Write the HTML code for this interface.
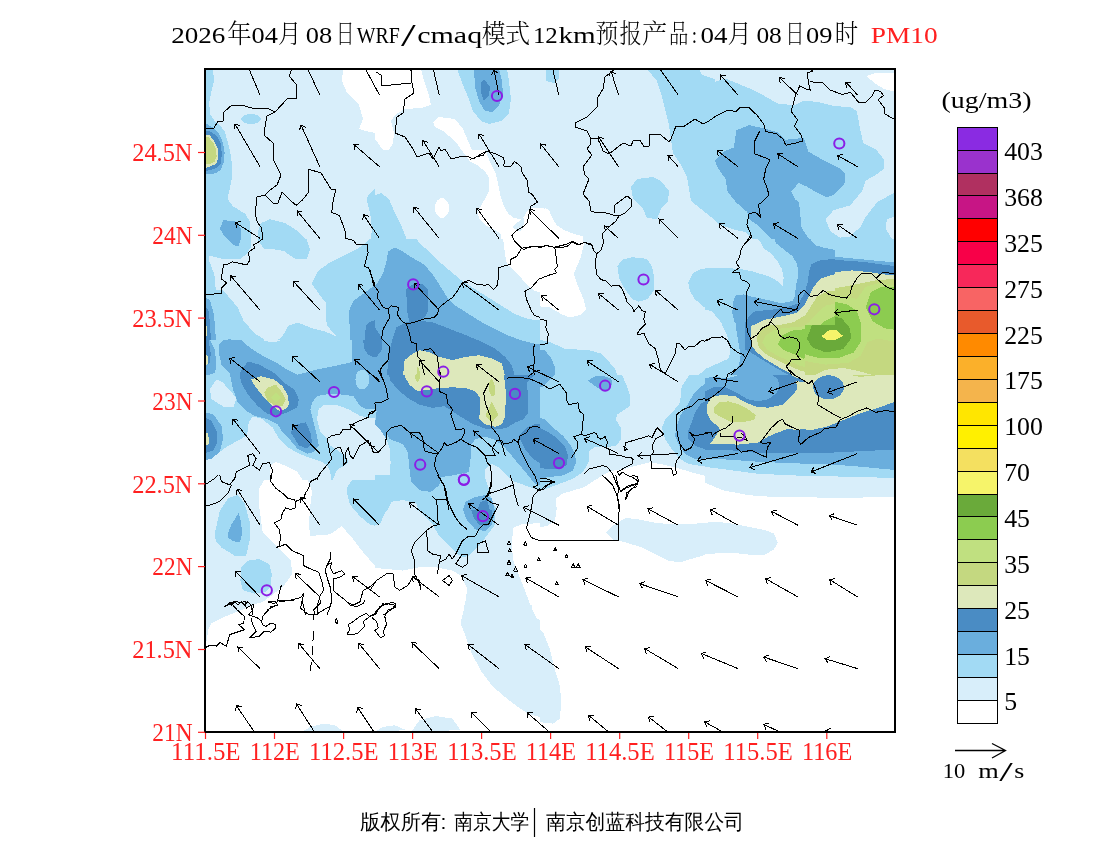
<!DOCTYPE html>
<html><head><meta charset="utf-8"><title>PM10</title>
<style>html,body{margin:0;padding:0;background:#fff;width:1100px;height:850px;overflow:hidden}svg{display:block}</style>
</head><body>
<svg width="1100" height="850" viewBox="0 0 1100 850">
<rect width="1100" height="850" fill="#fff"/>
<text x="171.2" y="43.4" font-size="24" fill="#000" font-family='"Liberation Serif", "Noto Serif CJK SC", serif' textLength="54.2" lengthAdjust="spacingAndGlyphs">2026</text>
<text x="227.3" y="42.6" font-size="25.7" fill="#000" font-family='"Liberation Serif", "Noto Serif CJK SC", serif' textLength="24.4" lengthAdjust="spacingAndGlyphs" font-weight="300">年</text>
<text x="251.5" y="43.4" font-size="24" fill="#000" font-family='"Liberation Serif", "Noto Serif CJK SC", serif' textLength="26.3" lengthAdjust="spacingAndGlyphs">04</text>
<text x="278.0" y="42.6" font-size="25.7" fill="#000" font-family='"Liberation Serif", "Noto Serif CJK SC", serif' textLength="23.4" lengthAdjust="spacingAndGlyphs" font-weight="300">月</text>
<text x="305.8" y="43.4" font-size="24" fill="#000" font-family='"Liberation Serif", "Noto Serif CJK SC", serif' textLength="26.4" lengthAdjust="spacingAndGlyphs">08</text>
<text x="336.0" y="42.6" font-size="25.7" fill="#000" font-family='"Liberation Serif", "Noto Serif CJK SC", serif' textLength="18.4" lengthAdjust="spacingAndGlyphs" font-weight="300">日</text>
<text x="356.7" y="43.4" font-size="24" fill="#000" font-family='"Liberation Serif", "Noto Serif CJK SC", serif' textLength="43.1" lengthAdjust="spacingAndGlyphs">WRF</text>
<text x="401.09999999999997" y="45.5" font-size="31" fill="#000" font-family='"Liberation Serif", "Noto Serif CJK SC", serif' textLength="14.7" lengthAdjust="spacingAndGlyphs">/</text>
<text x="417.2" y="43.4" font-size="24" fill="#000" font-family='"Liberation Serif", "Noto Serif CJK SC", serif' textLength="65.0" lengthAdjust="spacingAndGlyphs">cmaq</text>
<text x="481.8" y="42.6" font-size="25.7" fill="#000" font-family='"Liberation Serif", "Noto Serif CJK SC", serif' textLength="23.8" lengthAdjust="spacingAndGlyphs" font-weight="300">模</text>
<text x="505.1" y="42.6" font-size="25.7" fill="#000" font-family='"Liberation Serif", "Noto Serif CJK SC", serif' textLength="25.2" lengthAdjust="spacingAndGlyphs" font-weight="300">式</text>
<text x="532.9000000000001" y="43.4" font-size="24" fill="#000" font-family='"Liberation Serif", "Noto Serif CJK SC", serif' textLength="24.9" lengthAdjust="spacingAndGlyphs">12</text>
<text x="558.4000000000001" y="43.4" font-size="24" fill="#000" font-family='"Liberation Serif", "Noto Serif CJK SC", serif' textLength="37.2" lengthAdjust="spacingAndGlyphs">km</text>
<text x="595.5999999999999" y="42.6" font-size="25.7" fill="#000" font-family='"Liberation Serif", "Noto Serif CJK SC", serif' textLength="23.0" lengthAdjust="spacingAndGlyphs" font-weight="300">预</text>
<text x="619.5999999999999" y="42.6" font-size="25.7" fill="#000" font-family='"Liberation Serif", "Noto Serif CJK SC", serif' textLength="22.3" lengthAdjust="spacingAndGlyphs" font-weight="300">报</text>
<text x="642.0999999999999" y="42.6" font-size="25.7" fill="#000" font-family='"Liberation Serif", "Noto Serif CJK SC", serif' textLength="25.2" lengthAdjust="spacingAndGlyphs" font-weight="300">产</text>
<text x="669.0" y="42.6" font-size="25.7" fill="#000" font-family='"Liberation Serif", "Noto Serif CJK SC", serif' textLength="19.4" lengthAdjust="spacingAndGlyphs" font-weight="300">品</text>
<text x="691.7" y="43.4" font-size="24" fill="#000" font-family='"Liberation Serif", "Noto Serif CJK SC", serif' textLength="5.3" lengthAdjust="spacingAndGlyphs">:</text>
<text x="700.5" y="43.4" font-size="24" fill="#000" font-family='"Liberation Serif", "Noto Serif CJK SC", serif' textLength="27.0" lengthAdjust="spacingAndGlyphs">04</text>
<text x="727.6" y="42.6" font-size="25.7" fill="#000" font-family='"Liberation Serif", "Noto Serif CJK SC", serif' textLength="24.3" lengthAdjust="spacingAndGlyphs" font-weight="300">月</text>
<text x="756.4000000000001" y="43.4" font-size="24" fill="#000" font-family='"Liberation Serif", "Noto Serif CJK SC", serif' textLength="25.4" lengthAdjust="spacingAndGlyphs">08</text>
<text x="785.3000000000001" y="42.6" font-size="25.7" fill="#000" font-family='"Liberation Serif", "Noto Serif CJK SC", serif' textLength="19.2" lengthAdjust="spacingAndGlyphs" font-weight="300">日</text>
<text x="806.0" y="43.4" font-size="24" fill="#000" font-family='"Liberation Serif", "Noto Serif CJK SC", serif' textLength="26.4" lengthAdjust="spacingAndGlyphs">09</text>
<text x="834.6999999999999" y="42.6" font-size="25.7" fill="#000" font-family='"Liberation Serif", "Noto Serif CJK SC", serif' textLength="23.5" lengthAdjust="spacingAndGlyphs" font-weight="300">时</text>
<text x="870.8" y="43.4" font-size="24" fill="#ff2020" font-family='"Liberation Serif", "Noto Serif CJK SC", serif' textLength="66.8" lengthAdjust="spacingAndGlyphs">PM10</text>
<defs>
<clipPath id="t0"><rect x="205" y="69" width="170" height="170" shape-rendering="crispEdges"/></clipPath>
<clipPath id="t1"><rect x="375" y="69" width="170" height="170" shape-rendering="crispEdges"/></clipPath>
<clipPath id="t2"><rect x="545" y="69" width="170" height="170" shape-rendering="crispEdges"/></clipPath>
<clipPath id="t3"><rect x="715" y="69" width="180" height="170" shape-rendering="crispEdges"/></clipPath>
<clipPath id="t4"><rect x="205" y="239" width="170" height="101" shape-rendering="crispEdges"/></clipPath>
<clipPath id="t5"><rect x="205" y="340" width="170" height="140" shape-rendering="crispEdges"/></clipPath>
<clipPath id="t6"><rect x="375" y="239" width="165" height="136" shape-rendering="crispEdges"/></clipPath>
<clipPath id="t7"><rect x="540" y="239" width="165" height="136" shape-rendering="crispEdges"/></clipPath>
<clipPath id="t8"><rect x="705" y="239" width="191" height="136" shape-rendering="crispEdges"/></clipPath>
<clipPath id="t9"><rect x="705" y="239" width="130" height="86" shape-rendering="crispEdges"/></clipPath>
<clipPath id="t10"><rect x="705" y="325" width="100" height="50" shape-rendering="crispEdges"/></clipPath>
<clipPath id="t11"><rect x="375" y="375" width="165" height="135" shape-rendering="crispEdges"/></clipPath>
<clipPath id="t12"><rect x="540" y="375" width="165" height="135" shape-rendering="crispEdges"/></clipPath>
<clipPath id="t13"><rect x="705" y="375" width="191" height="135" shape-rendering="crispEdges"/></clipPath>
<clipPath id="t14"><rect x="705" y="375" width="100" height="75" shape-rendering="crispEdges"/></clipPath>
<clipPath id="t15"><rect x="205" y="480" width="170" height="125" shape-rendering="crispEdges"/></clipPath>
<clipPath id="t16"><rect x="375" y="510" width="165" height="95" shape-rendering="crispEdges"/></clipPath>
<clipPath id="t17"><rect x="540" y="510" width="165" height="95" shape-rendering="crispEdges"/></clipPath>
<clipPath id="t18"><rect x="705" y="510" width="191" height="95" shape-rendering="crispEdges"/></clipPath>
<clipPath id="t19"><rect x="205" y="605" width="170" height="128" shape-rendering="crispEdges"/></clipPath>
<clipPath id="t20"><rect x="375" y="605" width="165" height="128" shape-rendering="crispEdges"/></clipPath>
<clipPath id="t21"><rect x="540" y="605" width="165" height="128" shape-rendering="crispEdges"/></clipPath>
<clipPath id="t22"><rect x="705" y="605" width="191" height="128" shape-rendering="crispEdges"/></clipPath>
<clipPath id="mapc"><rect x="205" y="69" width="690" height="663"/></clipPath>
</defs>
<g clip-path="url(#mapc)" shape-rendering="crispEdges">
<rect x="205" y="69" width="690" height="663" fill="#d8eefa"/>
<g clip-path="url(#t0)">
<rect x="204" y="68" width="172" height="172" fill="#d8eefa"/>
<polygon points="205.0,69.0 213.0,69.0 214.0,81.0 212.0,89.0 209.0,103.0 210.5,115.0 214.3,120.6 219.9,125.4 224.6,131.0 227.5,141.4 230.3,152.6 232.2,165.8 232.2,176.2 230.3,186.5 228.4,195.0 228.2,200.0 232.8,206.2 245.2,213.9 249.8,221.6 251.4,240.0 205.0,240.0" fill="#a2daf4"/>
<polygon points="261.0,119.0 260.2,120.9 258.1,122.5 254.8,123.6 251.0,124.0 247.2,123.6 243.9,122.5 241.8,120.9 241.0,119.0 241.8,117.1 243.9,115.5 247.2,114.4 251.0,114.0 254.8,114.4 258.1,115.5 260.2,117.1" fill="#a2daf4"/>
<polygon points="258.3,230.9 260.6,223.2 269.9,219.3 285.4,223.2 297.7,230.9 307.0,240.2 258.3,240.2" fill="#a2daf4"/>
<polygon points="375.0,188.0 368.0,195.0 366.5,200.0 368.8,207.7 371.1,218.5 371.9,230.9 370.4,240.0 375.0,240.0" fill="#a2daf4"/>
<polygon points="343.0,69.0 342.0,81.0 347.0,93.0 359.0,105.0 363.0,119.0 359.0,129.0 365.0,131.0 375.0,133.0 375.0,69.0" fill="#ffffff"/>
<polygon points="205.8,123.5 212.4,127.2 219.0,133.8 222.8,142.3 224.6,152.6 223.7,162.1 220.9,169.6 215.2,173.4 205.0,174.3 205.0,123.5" fill="#6aaedd"/>
<polygon points="219.7,228.6 223.5,220.1 235.9,221.6 241.3,229.4 240.5,240.2 238.2,246.4 232.8,244.8 225.1,237.1" fill="#6aaedd"/>
<polygon points="205.0,130.1 211.5,132.0 217.1,136.6 220.9,143.2 221.8,154.5 220.9,163.9 215.2,168.6 207.7,170.5 205.0,170.5" fill="#4a8cc4"/>
<polygon points="205.0,134.8 209.6,135.2 214.3,141.4 217.6,147.9 218.5,157.4 216.2,163.9 211.5,165.8 206.8,167.7 205.0,167.7" fill="#dde8bb"/>
<polygon points="205.0,136.6 208.6,137.1 213.4,143.2 216.2,149.8 216.6,156.4 214.3,162.1 209.6,163.9 205.0,163.9" fill="#c4d880"/>
</g>
<g clip-path="url(#t1)">
<rect x="374" y="68" width="172" height="172" fill="#d8eefa"/>
<polygon points="457.0,69.0 463.0,85.0 469.0,99.0 473.0,111.0 481.0,121.0 489.0,124.0 501.0,121.0 509.0,113.0 511.0,99.0 509.0,81.0 507.0,69.0" fill="#a2daf4"/>
<polygon points="375.0,195.0 381.0,193.0 389.0,199.0 395.0,213.0 401.0,225.0 407.0,240.0 375.0,240.0" fill="#a2daf4"/>
<polygon points="375.0,69.0 421.0,69.0 424.0,81.0 429.0,95.0 431.0,105.0 421.0,108.0 405.0,109.0 395.0,115.0 391.0,121.0 394.0,133.0 393.0,143.0 389.0,150.0 383.0,150.0 375.0,139.0" fill="#ffffff"/>
<polygon points="433.0,122.0 439.0,117.0 455.0,119.0 463.0,129.0 469.0,143.0 472.0,150.0 485.3,150.0 490.4,162.7 495.5,172.9 498.0,183.1 500.5,195.8 504.4,207.3 508.2,213.6 513.3,217.5 520.9,219.4 514.5,225.1 512.6,227.6 517.1,230.2 520.9,231.5 523.5,225.1 523.5,217.5 527.3,211.1 531.1,208.5 541.3,207.9 548.9,209.8 551.5,216.2 556.5,225.1 564.2,230.2 574.4,234.0 583.3,236.5 584.5,250.0 501.8,250.0 500.5,234.0 495.5,230.2 485.3,225.1 478.9,218.7 477.6,211.1 480.2,207.3 485.3,198.4 489.1,190.7 489.1,178.0 485.3,171.6 477.6,165.3 470.0,161.5 463.0,152.0 455.0,141.0 443.0,131.0 435.0,127.0" fill="#ffffff"/>
<polygon points="449.0,208.0 448.5,211.8 446.9,215.1 444.7,217.2 442.0,218.0 439.3,217.2 437.1,215.1 435.5,211.8 435.0,208.0 435.5,204.2 437.1,200.9 439.3,198.8 442.0,198.0 444.7,198.8 446.9,200.9 448.5,204.2" fill="#ffffff"/>
<polygon points="474.0,69.0 475.0,87.0 479.0,101.0 485.0,111.0 493.0,112.0 499.0,105.0 503.0,95.0 502.0,81.0 499.0,69.0" fill="#6aaedd"/>
<polygon points="481.0,83.0 484.0,79.0 490.0,87.0 489.0,95.0 484.0,101.0 481.0,93.0" fill="#4a8cc4"/>
</g>
<g clip-path="url(#t2)">
<rect x="544" y="68" width="172" height="172" fill="#d8eefa"/>
<polygon points="546.0,69.0 559.0,69.0 559.0,78.0 554.0,83.0 546.0,81.0" fill="#a2daf4"/>
<polygon points="647.0,69.0 699.0,69.0 702.0,75.0 715.0,79.0 715.0,221.0 711.0,217.0 701.0,209.0 691.0,201.0 689.0,189.0 687.0,177.0 681.0,165.0 673.0,153.0 671.0,139.0 669.0,125.0 665.0,109.0 661.0,93.0 657.0,81.0" fill="#a2daf4"/>
<polygon points="631.0,187.0 637.0,179.0 653.0,177.0 661.0,181.0 669.0,191.0 668.0,201.0 661.0,209.0 657.0,219.0 647.0,218.0 643.0,209.0 633.0,199.0" fill="#a2daf4"/>
<polygon points="545.0,208.0 548.9,209.8 551.5,216.2 556.5,225.1 564.2,230.2 574.4,234.0 583.3,236.5 584.5,250.0 545.0,250.0" fill="#ffffff"/>
</g>
<g clip-path="url(#t3)">
<rect x="714" y="68" width="182" height="172" fill="#d8eefa"/>
<polygon points="866.0,76.0 876.0,73.0 896.0,73.0 896.0,92.0 884.0,89.0 876.0,84.0" fill="#ffffff"/>
<polygon points="715.0,81.7 725.6,78.5 738.3,83.8 751.0,89.1 763.7,95.5 778.5,104.0 795.5,105.0 803.9,100.8 816.7,101.8 833.6,106.0 850.5,107.1 856.9,111.4 860.0,128.3 863.2,143.1 876.0,149.5 884.4,160.0 884.4,168.5 876.0,174.9 865.6,180.6 862.0,191.2 850.3,205.3 833.8,210.0 825.6,219.4 830.3,231.2 839.7,237.6 849.1,237.1 860.9,226.5 865.6,217.0 877.4,201.8 896.0,192.0 896.0,240.0 753.0,240.0 745.0,232.0 732.0,229.0 719.0,224.0 715.0,221.0" fill="#a2daf4"/>
<polygon points="886.8,219.4 896.0,215.9 896.0,245.3 885.6,228.8" fill="#d8eefa"/>
<polygon points="715.0,160.0 723.5,151.6 734.0,147.4 736.2,130.4 748.9,125.1 763.7,128.3 778.5,132.5 784.9,139.9 803.9,137.8 808.2,151.6 823.0,160.0 840.0,168.5 845.6,174.7 844.4,184.1 833.8,194.7 826.8,197.6 818.5,193.5 806.8,186.5 798.5,182.9 791.2,191.8 795.0,199.4 798.5,201.8 800.3,211.2 800.9,226.5 806.8,235.9 812.6,244.1 818.5,247.6 780.0,249.0 775.9,243.3 765.5,232.9 757.7,225.2 750.0,220.0 747.4,212.2 736.2,202.4 727.7,191.8 725.6,179.1 717.0,166.4" fill="#6aaedd"/>
</g>
<g clip-path="url(#t4)">
<rect x="204" y="238" width="172" height="103" fill="#a2daf4"/>
<polygon points="251.4,236.0 258.3,236.0 258.3,240.2 263.7,248.7 274.6,249.5 283.8,251.0 296.2,259.5 307.0,258.7 310.1,249.5 307.0,240.2 305.0,236.0 370.0,236.0 370.4,238.6 365.7,243.3 356.5,249.5 344.1,255.6 328.6,263.4 317.8,271.1 311.6,283.5 316.3,290.0 319.4,294.6 325.6,302.4 325.6,316.3 327.1,325.5 336.4,336.4 325.6,331.7 313.2,328.6 297.7,322.5 288.5,325.5 282.3,336.4 274.6,342.6 266.8,341.0 254.5,333.3 243.6,320.9 237.5,307.0 228.2,296.2 222.0,290.0 215.8,290.0 214.3,274.2 208.9,260.3 209.6,255.6 225.1,259.5 240.5,258.7 246.7,254.1 251.4,246.4" fill="#d8eefa"/>
<polygon points="219.7,228.6 223.5,220.1 235.9,221.6 241.3,229.4 240.5,240.2 238.2,246.4 232.8,244.8 225.1,237.1" fill="#6aaedd"/>
<polygon points="205.0,297.0 210.0,300.0 214.0,315.0 216.0,340.0 215.0,365.0 210.0,377.0 205.0,380.0" fill="#6aaedd"/>
<polygon points="375.0,285.0 364.2,293.1 353.4,300.8 348.7,311.6 350.3,336.4 350.3,345.0 375.0,345.0" fill="#6aaedd"/>
<polygon points="218.9,344.1 229.7,338.7 243.6,345.6 259.1,354.9 251.4,354.9 218.9,354.9" fill="#6aaedd"/>
<polygon points="205.0,305.0 209.0,312.0 211.0,340.0 210.0,365.0 205.0,370.0" fill="#4a8cc4"/>
<polygon points="365.7,325.5 370.0,322.0 375.0,320.0 375.0,360.0 368.0,356.0 365.0,345.0" fill="#4a8cc4"/>
<polygon points="207.5,331.0 207.3,333.3 206.8,335.2 206.0,336.5 205.0,337.0 204.0,336.5 203.2,335.2 202.7,333.3 202.5,331.0 202.7,328.7 203.2,326.8 204.0,325.5 205.0,325.0 206.0,325.5 206.8,326.8 207.3,328.7" fill="#dde8bb"/>
</g>
<g clip-path="url(#t5)">
<rect x="204" y="339" width="172" height="142" fill="#a2daf4"/>
<polygon points="259.4,339.2 284.1,339.2 274.2,342.5 266.8,341.3" fill="#d8eefa"/>
<polygon points="209.9,389.4 216.5,379.5 223.1,382.8 236.3,397.7 233.8,406.7 224.8,407.5 211.6,399.3" fill="#d8eefa"/>
<polygon points="205.0,460.3 214.9,455.3 226.4,447.1 237.9,440.5 247.0,435.6 248.7,422.4 252.8,416.6 261.0,418.3 272.5,427.3 279.1,438.8 287.4,447.1 298.9,453.7 312.1,458.6 320.3,461.1 326.9,465.2 330.2,471.8 331.9,481.7 205.0,481.7" fill="#d8eefa"/>
<polygon points="318.7,409.2 323.6,405.1 336.8,405.1 348.3,409.2 359.9,415.8 369.7,418.3 376.3,417.4 376.3,481.7 331.9,481.7 336.8,470.1 345.0,465.2 348.3,461.9 345.0,455.3 340.1,452.0 335.1,448.7 330.2,445.4 326.9,438.8 320.3,432.3 317.0,419.1" fill="#d8eefa"/>
<polygon points="270.9,465.2 275.8,461.9 284.1,465.2 297.3,471.8 303.8,481.7 269.3,481.7" fill="#ffffff"/>
<polygon points="219.0,344.9 224.8,339.2 240.4,339.2 249.5,347.4 261.0,354.8 274.2,361.4 287.4,369.7 297.3,374.6 307.1,372.1 320.3,368.8 336.8,365.5 351.6,362.2 351.6,339.2 376.3,339.2 376.3,409.2 366.4,409.2 359.9,405.9 353.3,396.0 340.1,394.4 326.9,394.4 317.0,396.0 312.1,402.6 310.4,409.2 313.7,422.4 317.0,435.6 318.7,445.4 313.7,452.0 307.1,453.7 297.3,448.7 290.7,440.5 282.4,432.3 277.5,424.0 267.6,419.1 254.4,415.8 246.2,410.8 237.9,402.6 233.0,389.4 229.7,372.9 221.5,364.7 219.0,353.2" fill="#6aaedd"/>
<polygon points="369.3,379.5 368.7,383.3 367.2,386.5 365.0,388.7 362.3,389.4 359.7,388.7 357.4,386.5 355.9,383.3 355.4,379.5 355.9,375.8 357.4,372.5 359.7,370.4 362.3,369.7 365.0,370.4 367.2,372.5 368.7,375.8" fill="#a2daf4"/>
<polygon points="204.2,339.2 209.9,339.2 214.9,349.9 216.5,366.4 214.9,372.9 204.2,376.2" fill="#6aaedd"/>
<polygon points="204.2,412.5 213.2,414.1 221.5,425.7 223.1,438.8 219.8,452.0 211.6,458.6 204.2,460.3" fill="#6aaedd"/>
<polygon points="239.6,372.9 247.8,361.4 259.4,364.7 274.2,372.9 284.1,382.8 294.0,389.4 298.9,399.3 297.3,407.5 287.4,412.5 277.5,415.8 267.6,414.1 257.7,405.9 247.8,394.4 241.2,382.8" fill="#4a8cc4"/>
<polygon points="290.7,432.3 297.3,424.0 305.5,422.4 310.4,432.3 312.1,442.1 307.1,448.7 298.9,445.4" fill="#4a8cc4"/>
<polygon points="204.2,417.4 211.6,420.7 216.5,430.6 217.4,442.1 213.2,450.4 204.2,453.7" fill="#4a8cc4"/>
<polygon points="204.2,339.2 208.3,339.2 210.8,353.2 209.9,363.1 204.2,366.4" fill="#4a8cc4"/>
<polygon points="363.2,339.2 376.3,339.2 376.3,358.1 368.1,354.8 364.0,348.2" fill="#4a8cc4"/>
<polygon points="251.1,379.5 261.0,376.2 274.2,379.5 282.4,386.1 287.4,394.4 289.0,404.3 285.7,409.2 279.1,410.8 272.5,405.9 264.3,397.7 256.1,387.8" fill="#dde8bb"/>
<polygon points="204.2,432.3 207.5,433.1 209.1,438.8 208.3,445.4 204.2,445.4" fill="#dde8bb"/>
<polygon points="204.2,353.2 207.5,356.5 208.3,363.1 204.2,366.4" fill="#dde8bb"/>
<polygon points="264.3,392.7 267.6,387.8 275.8,384.5 282.4,392.7 285.7,399.3 282.4,405.9 275.8,405.9 267.6,401.0" fill="#c4d880"/>
<polygon points="270.9,397.7 275.8,392.7 280.8,397.7 275.8,402.6" fill="#c0e080"/>
</g>
<g clip-path="url(#t6)">
<rect x="374" y="238" width="167" height="138" fill="#a2daf4"/>
<polygon points="411.2,230.1 419.4,243.2 431.0,253.1 440.8,263.0 452.4,272.9 462.3,281.1 475.4,289.4 488.6,297.6 501.8,305.8 515.0,314.1 528.2,319.0 541.3,320.7 541.3,230.1" fill="#d8eefa"/>
<polygon points="501.8,230.1 503.4,241.6 505.1,254.8 506.7,263.0 511.7,267.9 518.3,274.5 526.5,284.4 534.7,291.0 541.3,292.7 541.3,230.1" fill="#ffffff"/>
<polygon points="388.1,251.5 394.7,247.4 402.9,251.5 412.8,258.1 424.4,264.7 432.6,274.5 439.2,284.4 447.4,297.6 455.7,305.8 468.8,314.1 482.0,322.3 495.2,328.9 508.4,335.5 521.6,340.4 534.7,343.7 541.3,344.6 541.3,376.7 369.2,376.7 369.2,291.0 376.6,284.4 383.2,272.9 386.5,261.4" fill="#6aaedd"/>
<polygon points="406.2,289.4 412.8,284.4 422.7,284.4 427.7,289.4 428.5,310.8 424.4,317.4 416.1,322.3 409.5,322.3 407.1,310.8" fill="#4a8cc4"/>
<polygon points="396.4,327.3 406.2,322.3 419.4,320.7 432.6,322.3 445.8,327.3 462.3,333.8 478.7,340.4 495.2,348.7 505.1,356.9 511.7,365.1 515.0,376.7 386.5,376.7 389.8,350.3 393.1,337.1" fill="#4a8cc4"/>
<polygon points="369.2,324.0 374.9,327.3 381.5,337.1 381.5,350.3 376.6,356.9 369.2,356.9" fill="#4a8cc4"/>
<polygon points="404.6,360.2 412.8,353.6 419.4,350.3 429.3,352.0 439.2,356.9 452.4,360.2 465.6,356.9 478.7,355.3 491.9,358.6 501.8,363.5 505.1,376.7 402.9,376.7" fill="#dde8bb"/>
<polygon points="416.1,376.7 417.8,365.1 421.1,376.7" fill="#c4d880"/>
</g>
<g clip-path="url(#t7)">
<rect x="539" y="238" width="167" height="138" fill="#d8eefa"/>
<polygon points="535.1,230.1 582.8,230.1 583.7,244.9 580.4,258.1 573.8,273.7 577.9,286.1 583.7,299.3 586.1,309.1 580.4,314.9 569.7,317.4 561.4,314.1 549.9,307.5 535.1,305.8" fill="#ffffff"/>
<polygon points="617.4,266.3 622.4,259.7 632.3,257.2 647.1,258.9 652.0,266.3 654.5,279.5 653.7,291.0 647.1,299.3 638.8,301.7 632.3,299.3 624.0,287.7 619.1,277.8" fill="#a2daf4"/>
<polygon points="688.3,282.8 693.2,272.9 701.4,268.8 714.6,267.9 714.6,309.1 704.7,307.5 694.9,299.3 689.9,291.0" fill="#a2daf4"/>
<polygon points="535.1,338.8 549.9,342.1 564.7,348.7 589.4,350.3 601.0,353.6 609.2,361.9 615.8,370.1 617.4,376.7 535.1,376.7" fill="#a2daf4"/>
<polygon points="696.5,376.7 704.7,370.1 714.6,366.8 714.6,376.7" fill="#a2daf4"/>
<polygon points="535.1,350.3 544.9,350.3 551.5,358.6 554.8,366.8 555.7,376.7 535.1,376.7" fill="#6aaedd"/>
</g>
<g clip-path="url(#t8)">
<rect x="704" y="238" width="193" height="138" fill="#a2daf4"/>
<polygon points="704.1,229.8 735.2,229.8 737.0,238.5 744.7,241.9 758.5,245.4 762.0,252.3 772.4,255.7 779.3,264.4 782.7,274.7 783.6,285.1 779.3,286.8 772.4,279.9 760.3,273.9 748.2,271.3 734.4,269.5 704.1,268.7" fill="#d8eefa"/>
<polygon points="704.1,309.3 713.6,311.0 722.3,317.9 727.5,331.7 730.9,342.1 734.4,352.5 737.8,362.8 739.5,376.6 704.1,376.6" fill="#d8eefa"/>
<polygon points="762.0,229.8 777.6,229.8 782.7,240.2 794.8,247.1 808.6,252.3 825.9,255.7 843.2,257.5 860.5,259.2 877.7,260.9 896.7,262.6 896.7,376.6 732.6,376.6 732.6,355.9 730.9,338.6 732.6,321.4 733.5,304.1 735.2,297.2 743.0,295.5 756.8,295.5 770.6,295.5 782.7,293.7 791.4,290.3 796.6,283.4 794.8,269.5 784.5,257.5 774.1,248.8 767.2,241.9" fill="#6aaedd"/>
<polygon points="798.3,292.0 801.7,278.2 808.6,266.1 817.3,260.9 834.6,260.0 851.8,260.9 869.1,262.6 886.4,265.2 896.7,266.1 896.7,376.6 744.7,376.6 746.5,355.9 745.6,338.6 746.5,321.4 749.9,316.2 762.0,312.7 779.3,311.0 791.4,307.6 796.6,300.6" fill="#4a8cc4"/>
<polygon points="806.9,297.2 812.1,285.1 819.0,276.5 834.6,272.1 851.8,270.4 869.1,272.1 886.4,274.7 896.7,275.6 896.7,376.6 753.4,376.6 751.6,355.9 750.8,342.1 750.8,328.3 753.4,323.1 762.0,319.6 777.6,316.2 796.6,312.7 803.5,307.6" fill="#dde8bb"/>
<polygon points="805.2,309.3 810.4,297.2 822.5,290.3 843.2,286.8 860.5,283.4 877.7,279.9 896.7,279.0 896.7,376.6 877.7,376.6 860.5,371.5 843.2,368.0 825.9,369.7 812.1,376.6 787.9,376.6 770.6,366.3 762.0,355.9 758.5,342.1 760.3,331.7 770.6,324.8 784.5,321.4 798.3,316.2" fill="#c4d880"/>
<polygon points="777.6,331.7 782.7,316.2 794.8,307.6 812.1,298.9 829.4,295.5 843.2,295.5 857.0,298.9 865.6,286.8 877.7,283.4 896.7,285.1 896.7,342.1 877.7,338.6 867.4,342.1 860.5,355.9 848.4,362.8 825.9,364.6 805.2,361.1 787.9,352.5 779.3,342.1" fill="#c0e080"/>
<polygon points="782.7,338.6 787.9,324.8 801.7,316.2 817.3,304.1 832.8,301.5 846.6,304.1 857.0,311.0 861.3,324.8 860.5,342.1 853.6,352.5 839.7,357.6 817.3,357.6 798.3,352.5 786.2,345.6" fill="#8ccc50"/>
<polygon points="865.6,307.6 870.8,292.0 881.2,286.8 896.7,286.8 896.7,330.0 884.7,328.3 872.6,321.4" fill="#8ccc50"/>
<polygon points="806.9,338.6 812.1,324.8 825.9,316.2 841.5,317.9 850.1,328.3 851.0,338.6 843.2,349.0 825.9,352.5 812.1,347.3" fill="#6aaa3a"/>
<polygon points="821.6,336.1 829.4,330.0 836.3,330.0 843.2,336.1 836.3,339.5 825.9,339.5" fill="#f6f46a"/>
</g>
<g clip-path="url(#t9)">
<rect x="704" y="238" width="132" height="88" fill="#a2daf4"/>
<polygon points="704.4,229.4 738.1,229.4 740.5,232.4 749.9,234.7 754.6,237.1 760.6,241.8 764.1,248.9 771.2,253.6 777.1,260.7 781.8,269.0 783.6,277.3 783.0,286.7 778.3,282.0 771.2,277.3 764.1,274.9 752.3,271.4 740.5,269.0 722.7,267.8 704.4,268.4" fill="#d8eefa"/>
<polygon points="704.4,309.2 712.1,311.6 719.2,319.8 726.3,330.0 704.4,330.0" fill="#d8eefa"/>
<polygon points="766.5,229.4 773.6,237.1 775.9,243.0 783.0,248.9 792.5,256.0 797.2,264.3 798.4,274.9 796.0,285.6 794.8,296.2 792.5,300.9 780.7,303.3 771.2,300.9 761.7,298.6 752.3,296.8 744.0,294.4 735.7,295.6 733.4,300.9 732.2,312.7 734.6,322.2 740.5,330.0 836.2,330.0 836.2,250.1 823.2,247.7 816.1,245.4 811.4,240.6 807.8,234.7 805.5,229.4" fill="#6aaedd"/>
<polygon points="809.0,271.4 811.4,264.3 818.5,260.7 836.2,258.4 836.2,330.0 744.0,330.0 745.2,322.2 749.9,315.1 754.6,311.6 764.1,310.4 775.9,309.2 787.7,306.8 798.4,303.3 804.3,293.8 807.8,282.0" fill="#4a8cc4"/>
<polygon points="752.3,330.0 754.6,324.6 764.1,319.8 775.9,317.5 787.7,315.1 797.2,312.7 804.3,305.7 809.0,296.2 813.7,286.7 820.8,278.5 836.2,273.7 836.2,330.0" fill="#dde8bb"/>
<polygon points="775.9,330.0 781.8,324.6 793.7,322.2 805.5,315.1 811.4,305.7 817.3,296.2 826.7,291.5 836.2,290.3 836.2,330.0" fill="#c4d880"/>
<polygon points="799.6,330.0 809.0,322.2 817.3,312.7 825.6,305.7 836.2,303.3 836.2,330.0" fill="#c0e080"/>
<polygon points="814.9,330.0 823.2,322.2 836.2,315.1 836.2,330.0" fill="#8ccc50"/>
</g>
<g clip-path="url(#t10)">
<rect x="704" y="324" width="102" height="52" fill="#6aaedd"/>
<polygon points="699.4,299.4 730.6,299.4 731.8,307.1 734.1,317.6 736.5,330.6 738.8,344.7 740.6,355.3 738.8,365.9 732.9,372.9 723.5,376.5 711.8,378.8 704.7,382.4 699.4,384.7" fill="#a2daf4"/>
<polygon points="699.4,304.7 707.1,307.1 715.3,314.1 721.2,323.5 727.1,335.3 729.4,344.7 730.0,352.9 728.2,358.8 717.6,363.5 707.1,368.2 699.4,370.6" fill="#d8eefa"/>
<polygon points="744.7,316.5 750.6,312.9 762.4,311.2 776.5,310.0 789.4,308.8 796.5,306.5 800.0,299.4 810.6,299.4 810.6,384.7 800.0,380.0 789.4,375.3 776.5,368.2 764.7,361.2 755.3,355.3 749.4,351.8 744.7,349.4" fill="#4a8cc4"/>
<polygon points="699.4,389.4 711.8,385.9 723.5,384.7 735.3,387.1 741.2,394.1 742.4,400.6 699.4,400.6" fill="#4a8cc4"/>
<polygon points="750.6,327.1 755.3,322.4 765.9,318.8 776.5,316.5 788.2,315.3 797.6,312.9 803.5,307.1 805.9,299.4 810.6,299.4 810.6,382.4 800.0,378.8 789.4,372.9 776.5,365.9 764.7,358.8 756.5,351.8 750.6,344.7" fill="#dde8bb"/>
<polygon points="711.8,400.6 716.5,395.3 729.4,394.1 736.5,397.6 737.6,400.6" fill="#dde8bb"/>
<polygon points="756.5,338.8 758.8,332.9 765.9,325.9 776.5,322.9 788.2,321.2 800.0,318.8 810.6,317.6 810.6,372.9 800.0,370.6 789.4,365.9 776.5,360.0 765.9,354.1 758.8,347.1" fill="#c4d880"/>
<polygon points="762.4,342.4 765.9,335.3 772.9,330.6 782.4,328.2 794.1,327.1 810.6,325.9 810.6,368.2 800.0,365.9 789.4,361.2 776.5,355.3 767.1,349.4" fill="#c0e080"/>
<polygon points="777.6,344.7 782.4,335.3 791.8,330.6 803.5,329.4 810.6,328.2 810.6,356.5 803.5,358.8 794.1,354.1 784.7,350.6" fill="#8ccc50"/>
</g>
<g clip-path="url(#t11)">
<rect x="374" y="374" width="167" height="137" fill="#6aaedd"/>
<polygon points="365.1,424.4 374.9,424.4 379.9,429.3 386.5,439.2 389.8,449.1 390.6,462.3 389.8,475.4 365.1,475.4" fill="#d8eefa"/>
<polygon points="365.1,398.0 374.9,399.7 376.6,411.2 374.9,424.4 365.1,424.4" fill="#a2daf4"/>
<polygon points="386.5,432.6 389.8,439.2 402.9,444.1 407.9,452.4 409.5,468.8 411.2,482.0 419.4,490.3 431.0,491.9 439.2,485.3 440.8,477.1 452.4,475.4 468.8,472.1 470.5,459.0 470.5,445.8 475.4,439.2 485.3,436.7 493.6,439.2 503.4,445.8 511.7,455.7 519.9,465.6 528.2,475.4 534.7,483.7 541.3,485.3 541.3,511.7 365.1,511.7 365.1,475.4 389.8,475.4 390.6,462.3 389.8,449.1 386.5,439.2" fill="#a2daf4"/>
<polygon points="485.3,468.8 491.9,463.9 498.5,467.2 506.7,475.4 515.0,482.0 524.9,485.3 534.7,488.6 541.3,490.3 541.3,511.7 498.5,511.7 491.9,501.8 488.6,488.6 485.3,478.7" fill="#d8eefa"/>
<polygon points="386.5,511.7 391.4,501.8 402.9,500.1 416.1,503.4 419.4,511.7" fill="#d8eefa"/>
<polygon points="462.3,511.7 465.6,501.8 475.4,496.9 485.3,495.2 491.9,498.5 495.2,511.7" fill="#6aaedd"/>
<polygon points="477.1,511.7 480.4,501.8 487.0,500.1 490.3,511.7" fill="#4a8cc4"/>
<polygon points="388.1,365.1 389.8,379.9 398.0,389.8 407.9,398.0 419.4,404.6 432.6,407.9 444.1,406.2 452.4,411.2 462.3,417.8 473.8,424.4 485.3,428.5 498.5,429.3 506.7,427.7 515.0,422.7 523.2,419.4 528.2,412.8 528.2,394.7 526.5,383.2 534.7,374.9 541.3,373.3 541.3,365.1" fill="#4a8cc4"/>
<polygon points="518.3,435.9 526.5,427.7 534.7,424.4 541.3,424.4 541.3,463.9 533.1,459.0 524.9,449.1" fill="#4a8cc4"/>
<polygon points="404.6,365.1 404.6,376.6 409.5,384.8 417.8,391.4 427.7,389.8 439.2,388.1 452.4,387.3 465.6,388.1 475.4,391.4 480.4,398.0 480.4,411.2 478.7,417.8 485.3,424.4 495.2,426.8 501.8,424.4 505.1,416.1 505.9,394.7 505.1,383.2 501.8,365.1" fill="#dde8bb"/>
<polygon points="414.5,371.6 417.8,365.1 420.2,373.3 419.4,379.9 417.0,382.4 415.3,378.2" fill="#c4d880"/>
<polygon points="488.6,383.2 491.9,378.2 495.2,386.5 495.2,394.7 491.9,396.4 488.6,389.8" fill="#c4d880"/>
<polygon points="485.3,416.1 491.9,401.3 498.5,414.5 491.9,422.7" fill="#c4d880"/>
</g>
<g clip-path="url(#t12)">
<rect x="539" y="374" width="167" height="137" fill="#d8eefa"/>
<polygon points="535.1,365.1 617.4,365.1 625.7,383.2 629.8,394.7 629.8,406.2 617.4,414.5 615.8,419.4 620.7,427.7 621.5,439.2 615.8,445.8 605.9,447.4 594.4,447.4 589.4,450.7 588.6,462.3 582.8,472.1 572.9,478.7 559.8,483.7 546.6,488.6 535.1,490.3" fill="#a2daf4"/>
<polygon points="711.3,365.1 696.5,365.1 688.3,376.6 681.7,386.5 680.0,402.9 671.8,412.8 665.2,419.4 661.9,427.7 665.2,439.2 671.8,449.1 680.0,459.0 688.3,463.9 698.2,465.6 711.3,465.6" fill="#a2daf4"/>
<polygon points="557.0,511.7 555.7,498.5 562.7,493.6 573.6,490.3 584.5,487.1 591.1,482.7 597.7,478.4 604.3,474.0 612.8,470.7 626.0,468.5 636.9,465.4 650.0,462.3 663.6,464.7 680.0,468.8 696.5,473.8 711.3,477.1 711.3,511.7" fill="#ffffff"/>
<polygon points="535.1,365.1 554.8,365.1 554.8,374.9 548.2,381.5 543.3,386.5 535.1,388.1" fill="#6aaedd"/>
<polygon points="587.8,380.7 594.4,376.6 602.6,375.8 610.8,378.2 612.5,383.2 609.2,388.1 604.3,391.4 597.7,388.1" fill="#6aaedd"/>
<polygon points="535.1,416.1 544.9,419.4 553.2,427.7 563.1,435.9 569.7,444.1 574.6,452.4 576.2,462.3 572.9,470.5 563.1,475.4 549.9,477.1 535.1,478.7" fill="#6aaedd"/>
<polygon points="711.3,379.9 701.4,386.5 693.2,394.7 686.6,406.2 680.0,416.1 676.7,426.0 675.1,435.9 678.4,444.1 685.0,454.0 694.9,459.0 711.3,460.6" fill="#6aaedd"/>
<polygon points="535.1,426.0 546.6,431.0 556.5,437.5 564.7,445.8 568.0,455.7 566.4,465.6 558.1,468.8 546.6,468.8 535.1,467.2" fill="#4a8cc4"/>
<polygon points="711.3,399.7 701.4,402.9 694.9,412.8 691.6,422.7 688.3,431.0 688.3,439.2 694.9,445.8 704.7,449.1 711.3,449.1" fill="#4a8cc4"/>
<polygon points="711.3,401.3 706.4,406.2 706.4,412.8 709.7,417.8 711.3,417.8" fill="#dde8bb"/>
</g>
<g clip-path="url(#t13)">
<rect x="704" y="374" width="193" height="137" fill="#4a8cc4"/>
<polygon points="704.1,450.3 730.9,450.3 756.8,452.9 791.4,452.9 825.9,452.9 860.5,451.2 896.7,449.5 896.7,470.2 860.5,466.7 825.9,464.1 791.4,463.3 756.8,461.6 730.9,459.8 704.1,458.1" fill="#6aaedd"/>
<polygon points="704.1,458.1 730.9,459.8 756.8,461.6 791.4,463.3 825.9,464.1 860.5,466.7 896.7,470.2 896.7,478.0 860.5,477.1 825.9,476.2 791.4,475.4 756.8,473.6 730.9,470.2 704.1,466.7" fill="#a2daf4"/>
<polygon points="704.1,466.7 730.9,470.2 756.8,473.6 791.4,475.4 825.9,476.2 860.5,477.1 896.7,478.0 896.7,497.0 843.2,497.8 774.1,497.0 748.2,495.2 722.3,490.1 704.1,482.3" fill="#d8eefa"/>
<polygon points="704.1,482.3 722.3,490.1 748.2,495.2 774.1,497.0 843.2,497.8 896.7,497.0 896.7,511.6 704.1,511.6" fill="#ffffff"/>
<polygon points="707.1,404.5 711.4,397.1 721.9,395.0 734.7,395.9 745.2,402.5 755.8,406.6 768.6,407.7 783.4,404.5 792.9,395.0 797.2,388.7 796.0,381.2 791.4,364.8 896.7,364.8 896.7,401.1 877.7,408.0 860.5,413.2 843.2,420.1 825.9,427.0 808.6,430.5 805.0,428.9 796.0,429.9 787.6,428.9 779.3,432.0 768.6,436.3 758.0,442.6 747.3,443.6 736.8,444.6 710.4,443.6 715.5,436.3 719.9,429.9 717.8,425.6 711.4,421.5 707.1,413.0" fill="#dde8bb"/>
<polygon points="844.1,387.3 842.9,391.9 839.5,395.8 834.5,398.4 828.5,399.4 822.6,398.4 817.5,395.8 814.1,391.9 813.0,387.3 814.1,382.6 817.5,378.7 822.6,376.1 828.5,375.2 834.5,376.1 839.5,378.7 842.9,382.6" fill="#4a8cc4"/>
<polygon points="787.9,364.8 794.8,372.6 808.6,373.5 825.9,371.7 843.2,373.5 860.5,376.9 877.7,375.2 896.7,373.5 896.7,364.8" fill="#c4d880"/>
<polygon points="713.5,407.8 718.8,402.5 728.3,401.3 738.9,404.5 747.3,408.7 755.8,415.1 754.7,419.2 747.3,421.5 736.8,422.5 729.5,421.5 720.9,417.2 714.5,413.0" fill="#c4d880"/>
</g>
<g clip-path="url(#t14)">
<rect x="704" y="374" width="102" height="77" fill="#4a8cc4"/>
<polygon points="704.5,359.5 740.0,359.5 738.9,366.4 738.9,374.8 734.7,378.0 726.2,378.0 715.6,378.5 708.2,380.1 704.5,381.2" fill="#a2daf4"/>
<polygon points="704.5,359.5 720.9,359.5 713.5,363.2 704.5,366.4" fill="#d8eefa"/>
<polygon points="704.5,378.0 715.6,376.9 726.2,378.5 740.0,374.8 740.0,359.5 749.5,359.5 751.6,364.2 760.1,369.5 770.7,373.8 778.1,379.1 779.2,386.5 777.0,392.8 768.6,399.2 758.0,401.3 747.4,399.2 736.8,392.8 726.2,387.5 715.6,386.5 708.2,389.7 704.5,391.8" fill="#6aaedd"/>
<polygon points="760.1,359.5 764.3,363.2 773.9,367.4 785.5,371.7 795.0,376.9 805.6,381.2 805.6,359.5" fill="#dde8bb"/>
<polygon points="770.7,359.5 779.2,364.2 789.7,369.5 805.6,372.7 805.6,359.5" fill="#c4d880"/>
<polygon points="707.1,404.5 711.4,397.1 721.9,395.0 734.7,396.0 745.3,402.4 755.8,406.6 768.6,407.7 783.4,404.5 792.9,395.0 797.2,388.6 796.1,381.2 805.6,382.2 805.6,428.9 796.1,429.9 787.6,428.9 779.2,432.0 768.6,436.3 758.0,442.6 747.4,443.7 736.8,444.7 726.2,443.7 710.3,443.7 715.6,436.3 719.8,429.9 717.7,425.7 711.4,421.4 707.1,413.0" fill="#dde8bb"/>
<polygon points="713.5,407.7 718.8,402.4 728.3,401.3 738.9,404.5 747.4,408.7 755.8,415.1 754.8,419.3 747.4,421.4 736.8,422.5 729.4,421.4 720.9,417.2 714.5,413.0" fill="#c4d880"/>
</g>
<g clip-path="url(#t15)">
<rect x="204" y="479" width="172" height="127" fill="#d8eefa"/>
<polygon points="270.1,470.1 303.8,470.1 312.1,491.5 310.4,504.7 308.8,524.4 310.4,536.0 330.2,534.3 341.7,526.1 353.3,539.3 363.2,552.4 376.3,567.3 376.3,616.7 221.5,616.7 229.7,611.7 246.2,606.8 262.7,601.9 274.2,593.6 284.1,585.4 292.3,573.8 290.7,560.7 284.1,554.1 274.2,544.2 262.7,532.7 259.4,507.9 259.4,488.2" fill="#ffffff"/>
<polygon points="214.9,532.7 219.8,511.2 228.1,498.1 237.9,494.8 244.5,503.0 249.5,521.1 249.5,540.9 246.2,555.7 234.7,555.7 221.5,547.5 215.7,540.9" fill="#a2daf4"/>
<polygon points="241.2,567.3 247.8,560.7 259.4,559.0 269.3,564.0 271.7,573.8 270.9,587.0 266.0,592.0 254.4,593.6 242.9,590.3 240.4,580.4" fill="#a2daf4"/>
<polygon points="346.7,488.2 353.3,478.3 359.9,470.1 376.3,470.1 376.3,526.1 369.7,524.4 359.9,516.2 350.0,504.7 347.5,494.8" fill="#a2daf4"/>
<polygon points="228.1,532.7 231.4,524.4 238.8,512.9 241.2,522.8 242.1,534.3 239.6,542.5 233.0,540.9 228.1,537.6" fill="#6aaedd"/>
</g>
<g clip-path="url(#t16)">
<rect x="374" y="509" width="167" height="97" fill="#d8eefa"/>
<polygon points="365.1,470.1 491.9,470.1 491.9,491.5 495.2,507.9 495.2,524.4 485.3,537.6 477.1,547.5 468.8,555.7 462.3,557.4 455.7,552.4 447.4,544.2 439.2,536.0 432.6,524.4 419.4,511.2 406.2,503.0 394.7,501.4 384.8,512.9 379.9,524.4 365.1,526.1" fill="#a2daf4"/>
<polygon points="506.7,470.1 541.3,470.1 541.3,488.2 528.2,486.5 518.3,481.6" fill="#a2daf4"/>
<polygon points="365.1,567.3 386.5,568.9 402.9,570.6 419.4,567.3 435.9,567.3 452.4,570.6 460.6,575.5 467.2,588.7 465.6,600.2 462.3,616.7 365.1,616.7" fill="#ffffff"/>
<polygon points="513.3,527.7 521.6,524.4 541.3,522.8 541.3,616.7 533.1,616.7 529.8,603.5 524.9,590.3 518.3,573.8 513.3,560.7 511.7,544.2" fill="#ffffff"/>
<polygon points="409.5,470.1 439.2,470.1 437.5,483.2 429.3,489.8 421.1,491.5 412.8,486.5 409.5,479.9" fill="#6aaedd"/>
<polygon points="462.3,507.9 465.6,499.7 475.4,495.6 485.3,496.4 491.9,501.4 495.2,511.2 491.9,524.4 485.3,531.0 475.4,529.4 467.2,521.1" fill="#6aaedd"/>
<polygon points="470.5,507.9 478.7,498.1 487.0,498.1 491.9,506.3 491.9,517.8 487.0,526.1 478.7,524.4 473.8,517.8" fill="#4a8cc4"/>
</g>
<g clip-path="url(#t17)">
<rect x="539" y="509" width="167" height="97" fill="#ffffff"/>
<polygon points="535.1,470.1 601.0,470.1 589.4,484.9 572.9,491.5 556.5,496.4 553.2,499.7 556.5,511.2 554.8,521.1 546.6,526.1 535.1,527.7" fill="#d8eefa"/>
<polygon points="535.1,470.1 576.2,470.1 569.7,479.9 556.5,484.9 535.1,486.5" fill="#a2daf4"/>
<polygon points="605.9,532.7 612.5,526.1 625.7,517.8 638.8,519.5 655.3,522.8 671.8,524.4 688.3,524.4 704.7,522.8 714.6,522.8 714.6,552.4 696.5,557.4 680.0,562.3 668.5,560.7 655.3,554.1 642.1,547.5 625.7,542.5 612.5,539.3" fill="#d8eefa"/>
</g>
<g clip-path="url(#t18)">
<rect x="704" y="509" width="193" height="97" fill="#ffffff"/>
<polygon points="699.8,469.8 896.7,469.8 896.7,495.7 860.5,494.9 825.9,495.7 791.4,496.6 770.6,497.5 748.2,494.0 725.7,490.5 713.6,487.1 699.8,483.6" fill="#d8eefa"/>
<polygon points="699.8,523.4 715.4,521.6 730.9,523.4 748.2,526.8 765.5,530.3 774.1,533.7 777.6,542.4 774.1,549.3 765.5,554.5 748.2,554.5 730.9,552.7 713.6,553.6 699.8,554.5" fill="#d8eefa"/>
</g>
<g clip-path="url(#t19)">
<rect x="204" y="604" width="172" height="130" fill="#ffffff"/>
<polygon points="200.1,595.1 267.6,595.1 254.4,604.9 237.9,611.5 221.5,618.1 211.6,623.1 208.3,629.7 206.6,641.2 200.1,647.8" fill="#d8eefa"/>
<polygon points="302.2,731.8 310.4,726.9 323.6,723.6 335.1,725.2 343.4,731.8" fill="#d8eefa"/>
</g>
<g clip-path="url(#t20)">
<rect x="374" y="604" width="167" height="130" fill="#ffffff"/>
<polygon points="465.6,595.1 530.6,595.1 532.3,609.9 536.4,618.1 544.6,623.1 544.6,718.6 528.2,713.7 518.3,707.1 505.1,697.2 491.9,685.7 482.0,672.5 472.1,654.4 465.6,636.2 460.6,623.1 463.9,609.9" fill="#d8eefa"/>
<polygon points="374.9,731.8 383.2,726.9 394.7,725.2 406.2,730.1" fill="#d8eefa"/>
<polygon points="411.2,731.8 419.4,720.3 435.9,716.1 452.4,718.6 460.6,730.1" fill="#d8eefa"/>
</g>
<g clip-path="url(#t21)">
<rect x="539" y="604" width="167" height="130" fill="#ffffff"/>
<polygon points="535.1,624.7 543.3,632.9 549.9,649.4 554.8,669.2 559.8,685.7 561.4,702.1 559.8,718.6 553.2,723.6 543.3,722.7 535.1,720.3" fill="#d8eefa"/>
</g>
<g clip-path="url(#t22)">
<rect x="704" y="604" width="193" height="130" fill="#ffffff"/>
</g>
</g>
<g clip-path="url(#mapc)" shape-rendering="crispEdges">
<polyline points="292.0,69.0 289.0,76.0 296.0,84.0 296.0,99.0 288.0,98.0 275.0,112.0 267.0,108.0 255.0,109.0 245.0,106.0 232.0,105.0 224.0,112.0 223.0,121.0 218.0,121.0 214.0,128.0 205.0,129.0" fill="none" stroke="#000" stroke-width="1.0" stroke-linejoin="round"/>
<polyline points="275.0,112.0 267.0,116.0 265.0,127.0 264.0,135.0 273.0,143.0 273.0,159.0 281.0,175.0 277.0,185.0 269.0,191.0 265.0,195.0 257.0,197.0 255.2,213.9 257.5,222.4 261.4,227.8 263.0,238.6 259.1,241.7 253.7,244.8 254.5,247.9 248.3,252.5 249.8,260.3 246.7,264.9 232.0,261.8 228.2,264.1 223.5,264.9 221.2,278.8 226.6,282.7 221.2,288.1 222.0,293.0 214.0,294.0 205.0,295.0" fill="none" stroke="#000" stroke-width="1.0" stroke-linejoin="round"/>
<polyline points="265.0,195.0 273.0,203.0 278.0,203.0 282.0,192.0 290.0,200.0 296.2,205.4 302.4,200.0 308.0,193.0 308.0,169.0 321.0,173.0 331.0,189.0 336.0,189.0 333.3,200.0 331.7,212.4 339.5,215.5 345.6,232.5 345.6,238.6 353.4,240.2 356.5,244.8 367.3,244.8 368.1,252.5 364.2,266.5 368.8,268.0 371.9,277.3 375.0,285.0" fill="none" stroke="#000" stroke-width="1.0" stroke-linejoin="round"/>
<polyline points="376.0,72.0 381.0,75.0 381.0,86.0 411.0,83.0 412.0,72.0 410.0,69.0" fill="none" stroke="#000" stroke-width="1.0" stroke-linejoin="round"/>
<polyline points="412.0,83.0 414.0,93.0 405.0,99.0 403.0,113.0 397.0,117.0 395.0,133.0 405.0,137.0 413.0,149.0 417.0,157.0 423.0,155.0 429.0,153.0 433.0,159.0 439.0,147.0 441.0,151.0 445.0,149.0 451.0,159.0 463.0,156.0 469.0,157.0 473.0,159.0 481.0,154.0 486.5,151.3 495.5,153.8 503.1,157.6 505.0,162.7 503.1,165.9 510.7,166.5 514.5,161.5 520.9,166.5 522.2,172.9 527.3,180.5 528.5,192.0 532.4,194.5 537.5,202.2 531.1,206.0 529.8,211.1 528.5,216.2 527.3,222.5 523.5,226.4 517.1,230.2 512.0,235.3 513.3,239.1 520.9,248.0" fill="none" stroke="#000" stroke-width="1.0" stroke-linejoin="round"/>
<polyline points="470.0,159.5 477.6,156.4 482.7,155.7 486.5,151.3" fill="none" stroke="#000" stroke-width="1.0" stroke-linejoin="round"/>
<polyline points="523.5,250.0 529.8,246.7 538.7,246.7 547.6,245.5 554.0,247.4 566.7,244.2 571.8,241.6 578.2,244.8 584.5,242.3 592.2,245.5 593.5,250.0" fill="none" stroke="#000" stroke-width="1.0" stroke-linejoin="round"/>
<polyline points="615.0,69.0 605.0,77.0 603.0,89.0 597.0,99.0 598.0,106.0 587.0,117.0 575.0,123.0 575.0,127.0 587.0,131.0 591.0,139.0 590.0,145.0 587.0,149.0 592.0,155.0 583.0,167.0 585.0,175.0 589.0,179.0 583.0,194.0 589.0,201.0 591.0,211.0 597.0,213.0 603.0,212.0 613.0,215.0 619.0,216.0 616.0,221.0 609.0,227.0 603.0,233.0 602.0,239.0" fill="none" stroke="#000" stroke-width="1.0" stroke-linejoin="round"/>
<polyline points="614.0,213.0 615.0,205.0 627.0,196.0 631.0,199.0 631.0,207.0 625.0,213.0 619.0,216.0" fill="none" stroke="#000" stroke-width="1.0" stroke-linejoin="round"/>
<polyline points="591.0,139.0 598.0,138.0 603.0,151.0 609.0,154.0 623.0,143.0 631.0,146.0 633.0,141.0 640.0,140.0 644.0,147.0 649.0,146.0 650.0,134.0 661.0,135.0 669.0,142.0 671.0,139.0 676.0,126.0 683.0,127.0 689.0,123.0 695.0,119.0 703.0,124.0 709.0,121.0 715.0,116.6 723.5,112.4 727.7,110.3 736.2,111.4 740.4,107.1 748.9,107.5 757.4,115.6 763.7,124.1 765.8,131.5 776.4,133.6 782.8,138.9 785.9,145.2 795.5,143.1 802.9,141.0 800.8,134.6 794.4,126.2 797.6,119.8 791.2,111.4 795.5,95.5 799.7,85.9 806.1,89.1 810.3,90.2 809.2,85.9 807.1,73.2 812.4,71.1 810.3,69.0" fill="none" stroke="#000" stroke-width="1.0" stroke-linejoin="round"/>
<polyline points="809.5,81.7 823.0,82.8 830.4,90.2 842.1,94.4 850.5,92.3 854.8,97.6 859.0,102.9 865.4,102.9 871.7,96.5 874.9,90.2 880.2,91.2 883.4,95.5 878.1,99.7 884.4,108.2 884.4,113.5 895.0,119.8" fill="none" stroke="#000" stroke-width="1.0" stroke-linejoin="round"/>
<polyline points="759.5,131.5 754.2,142.1 754.2,153.7 765.8,157.9 770.1,160.1 765.8,168.5 763.7,179.1 766.9,187.6 769.0,195.0 761.6,202.4 758.4,204.5 760.5,217.2 756.3,213.0 754.2,212.0 748.9,214.1 746.8,224.7 751.0,234.2 748.9,238.4 742.5,246.9" fill="none" stroke="#000" stroke-width="1.0" stroke-linejoin="round"/>
<polyline points="234.7,480.0 236.3,471.8 242.9,468.5 249.5,465.2 247.8,455.3 252.8,453.7 256.1,458.6 252.8,465.2 259.4,470.1 262.7,463.6 269.3,462.7 272.5,470.1 270.9,480.0" fill="none" stroke="#000" stroke-width="1.0" stroke-linejoin="round"/>
<polyline points="317.0,480.0 318.7,475.1 326.9,465.2 331.9,458.6 330.2,453.7 328.6,445.4 326.9,438.8 331.9,435.6 340.1,433.9 343.4,429.0 350.0,429.0 353.3,424.0 359.9,420.7 368.1,417.4 369.7,412.5 375.0,410.8" fill="none" stroke="#000" stroke-width="1.0" stroke-linejoin="round"/>
<polyline points="330.2,453.7 335.1,448.7 340.1,447.1 343.4,455.3 343.4,465.2 346.7,461.9 345.0,453.7 348.3,447.1 350.0,455.3 353.3,458.6 356.6,452.0 359.9,445.4 363.2,443.8 368.1,440.5 369.7,445.4 375.0,447.1" fill="none" stroke="#000" stroke-width="1.0" stroke-linejoin="round"/>
<polyline points="370.0,269.6 371.6,276.2 373.3,284.4 378.2,291.0 377.4,297.6 383.2,307.5 388.1,309.1 391.4,305.8 398.8,307.5 397.2,314.1 401.3,320.7 406.2,324.0 414.5,322.3 424.4,319.0 434.3,317.4 437.5,314.1 439.2,307.5 447.4,300.9 452.4,297.6 457.3,291.0 462.3,282.8 468.8,280.3 477.1,284.4 485.3,285.2 488.6,284.4 493.6,289.4 496.9,286.1 498.5,277.8 498.5,267.9 505.1,265.5 510.0,264.7 510.0,259.7 516.6,256.4 521.6,248.2 534.7,246.5 540.0,247.4" fill="none" stroke="#000" stroke-width="1.0" stroke-linejoin="round"/>
<polyline points="521.6,248.2 515.0,241.6 511.7,235.0" fill="none" stroke="#000" stroke-width="1.0" stroke-linejoin="round"/>
<polyline points="388.1,309.1 389.8,317.4 383.2,328.9 381.5,338.8 389.8,347.0 388.1,360.2 383.2,365.1 379.9,370.1 381.5,375.0" fill="none" stroke="#000" stroke-width="1.0" stroke-linejoin="round"/>
<polyline points="406.2,324.0 409.5,333.8 411.2,342.1 416.1,343.7 417.8,356.9 421.1,360.2 424.4,375.0" fill="none" stroke="#000" stroke-width="1.0" stroke-linejoin="round"/>
<polyline points="422.7,350.3 431.0,348.7 437.5,356.9 439.2,375.0" fill="none" stroke="#000" stroke-width="1.0" stroke-linejoin="round"/>
<polyline points="540.0,277.8 531.4,287.7 524.9,291.0 526.5,299.3 531.4,310.8 534.7,315.7 540.0,317.4" fill="none" stroke="#000" stroke-width="1.0" stroke-linejoin="round"/>
<polyline points="534.7,343.7 533.1,350.3 534.7,360.2 533.1,370.1 534.7,375.0" fill="none" stroke="#000" stroke-width="1.0" stroke-linejoin="round"/>
<polyline points="540.0,247.4 546.6,245.7 554.8,247.4 566.4,246.9 572.9,241.6 579.5,244.9 584.5,242.4 591.1,244.1 594.4,251.5 596.8,253.9 601.0,249.8 603.4,243.2 602.6,235.0" fill="none" stroke="#000" stroke-width="1.0" stroke-linejoin="round"/>
<polyline points="554.8,247.4 556.5,259.7 557.3,266.3 554.8,269.6 556.5,272.9 548.2,275.4 540.0,278.7" fill="none" stroke="#000" stroke-width="1.0" stroke-linejoin="round"/>
<polyline points="596.8,253.9 595.2,263.0 596.8,274.5 601.0,279.5 605.9,281.1 610.8,286.1 619.1,285.2 622.4,289.4 625.7,297.6 627.3,302.5 632.3,307.5 633.9,311.6 638.8,305.8 642.1,310.8 645.4,311.6 643.8,319.0 645.4,324.0 640.5,328.9 637.2,333.8 638.8,334.7 643.8,333.0 648.7,343.7 655.3,348.7 658.6,360.2 660.3,370.1 665.2,373.4" fill="none" stroke="#000" stroke-width="1.0" stroke-linejoin="round"/>
<polyline points="665.2,373.4 668.5,366.8 675.1,353.6 676.7,343.7 680.0,343.7 685.0,350.3 688.3,347.0 694.9,346.2 701.4,340.4 704.7,341.3 710.0,338.8" fill="none" stroke="#000" stroke-width="1.0" stroke-linejoin="round"/>
<polyline points="540.0,319.0 546.6,320.7 545.8,327.3 548.2,333.8 547.4,343.7 540.0,344.6" fill="none" stroke="#000" stroke-width="1.0" stroke-linejoin="round"/>
<polyline points="751.6,235.0 750.8,238.5 744.7,243.6 741.3,248.8 739.5,257.5 736.1,262.6 739.5,267.8 732.6,272.1 739.5,273.0 741.3,279.9 746.5,281.6 749.9,285.1 746.5,292.0 746.5,307.6 746.5,321.4 747.3,331.7 750.8,338.6 751.6,345.6 748.2,352.5 744.7,359.4 742.1,364.6 736.1,369.7 730.9,375.1" fill="none" stroke="#000" stroke-width="1.0" stroke-linejoin="round"/>
<polyline points="705.0,340.4 711.9,337.8 722.3,336.9 727.5,340.4 730.9,347.3 737.8,352.5 743.0,354.2 746.5,359.4" fill="none" stroke="#000" stroke-width="1.0" stroke-linejoin="round"/>
<polyline points="750.8,338.6 756.8,335.2 762.0,328.3 768.9,324.8 770.6,321.4 774.1,316.2 781.0,309.3 782.7,312.7 787.9,312.7 796.6,309.3 799.1,304.1 798.3,295.5 801.7,292.0 804.3,290.3 810.4,296.3 817.3,295.5 823.3,290.3 829.4,294.6 836.3,296.3 846.6,298.1 850.1,293.7 851.8,286.8 857.0,278.2 862.2,273.0 870.8,273.0 876.0,278.2 886.4,286.8 895.0,290.3" fill="none" stroke="#000" stroke-width="1.0" stroke-linejoin="round"/>
<polyline points="876.0,278.2 882.9,272.1 895.0,273.9" fill="none" stroke="#000" stroke-width="1.0" stroke-linejoin="round"/>
<polyline points="770.6,321.4 777.6,328.3 779.3,335.2 784.5,338.6 789.6,336.9 796.6,338.6 800.0,343.8 799.1,349.0 796.6,354.2 800.0,359.4 791.4,359.4 789.6,362.8 786.2,366.3 789.6,371.5 791.4,375.1" fill="none" stroke="#000" stroke-width="1.0" stroke-linejoin="round"/>
<polyline points="378.2,370.0 383.2,379.9 386.5,389.8 388.1,398.8 379.9,402.9 374.9,402.9 375.8,409.5 373.3,412.8 370.0,413.7" fill="none" stroke="#000" stroke-width="1.0" stroke-linejoin="round"/>
<polyline points="370.0,373.3 379.1,379.9" fill="none" stroke="#000" stroke-width="1.0" stroke-linejoin="round"/>
<polyline points="370.0,442.5 373.3,452.4 378.2,452.4 385.7,444.1 386.5,432.6 391.4,427.7 401.3,425.2 409.5,432.6 419.4,432.6 422.7,437.5 424.4,450.7 429.3,452.4 437.5,454.0 442.5,447.4 444.1,442.5 447.4,445.8 455.7,442.5 460.6,439.2 462.3,437.5 464.7,432.6 463.9,428.5 460.6,429.3 455.7,429.3 452.4,419.4 450.7,414.5 452.4,409.5 447.4,402.9 446.6,394.7 439.2,391.4 439.2,383.2 440.8,374.9 439.2,370.0" fill="none" stroke="#000" stroke-width="1.0" stroke-linejoin="round"/>
<polyline points="437.5,454.0 435.9,457.3 434.3,465.6 439.2,477.1 444.1,485.3 445.8,495.2 449.1,510.0" fill="none" stroke="#000" stroke-width="1.0" stroke-linejoin="round"/>
<polyline points="460.6,439.2 468.8,444.1 477.1,447.4 485.3,455.7 487.0,462.3 490.3,465.6 491.9,477.1 488.6,495.2 482.0,500.1" fill="none" stroke="#000" stroke-width="1.0" stroke-linejoin="round"/>
<polyline points="485.3,455.7 495.2,455.7 491.9,449.1 496.9,440.8 501.8,440.8 503.4,444.1 511.7,442.5 513.3,439.2 518.3,442.5 519.9,435.9 526.5,432.6 529.8,427.7 534.7,426.0 540.0,427.7" fill="none" stroke="#000" stroke-width="1.0" stroke-linejoin="round"/>
<polyline points="488.6,383.2 483.7,393.1 485.3,402.9 490.3,416.1 491.9,427.7 498.5,435.9 501.8,444.1 505.1,455.7" fill="none" stroke="#000" stroke-width="1.0" stroke-linejoin="round"/>
<polyline points="506.7,378.2 511.7,377.4 528.2,378.2 540.0,383.2" fill="none" stroke="#000" stroke-width="1.0" stroke-linejoin="round"/>
<polyline points="528.2,376.6 534.7,371.6 540.0,370.0" fill="none" stroke="#000" stroke-width="1.0" stroke-linejoin="round"/>
<polyline points="518.3,442.5 521.6,452.4 528.2,465.6 534.7,475.4 538.0,485.3 533.1,487.0 540.0,490.3" fill="none" stroke="#000" stroke-width="1.0" stroke-linejoin="round"/>
<polyline points="540.0,383.2 549.9,388.9 559.8,384.0 566.4,393.1 566.4,399.7 568.8,404.6 577.9,402.9 579.5,411.2 583.7,414.5 582.0,431.0 581.2,434.3 573.8,436.7 577.9,442.5 577.9,447.4 571.3,458.1" fill="none" stroke="#000" stroke-width="1.0" stroke-linejoin="round"/>
<polyline points="581.2,434.3 584.5,435.9 589.4,434.3 594.4,432.6 596.8,434.3 597.7,437.5 601.0,439.2 605.1,436.7 607.5,442.5 605.9,447.4 609.2,449.1 609.2,454.0 620.7,455.7 625.7,457.3 630.6,457.3 633.1,459.0 632.3,463.9 625.7,467.2 617.4,472.1 619.1,475.4 622.4,472.1 627.3,475.4 632.3,477.1 637.2,480.4 638.0,483.7 629.0,485.3 624.0,488.6 620.7,491.9" fill="none" stroke="#000" stroke-width="1.0" stroke-linejoin="round"/>
<polyline points="622.4,445.8 627.3,449.1 624.0,450.7 625.7,442.5 632.3,440.8 648.7,435.9 652.0,437.5 657.0,427.7 663.6,434.3 655.3,439.2 652.0,445.8 653.7,452.4 650.4,455.7 652.0,468.8 671.8,468.8 673.4,475.4 676.7,473.8 675.1,467.2 676.7,460.6 681.7,454.0 680.0,444.1 678.4,439.2 676.7,429.3 676.7,414.5 683.3,409.5 691.6,406.2 698.2,399.7 704.7,398.8 710.0,400.5" fill="none" stroke="#000" stroke-width="1.0" stroke-linejoin="round"/>
<polyline points="680.0,444.1 685.0,450.7 691.6,447.4 694.9,439.2 689.9,432.6 694.9,435.9 710.0,432.6" fill="none" stroke="#000" stroke-width="1.0" stroke-linejoin="round"/>
<polyline points="584.5,473.8 589.4,468.8 596.0,467.2 602.6,465.6 607.5,467.2 612.5,473.8 615.8,482.0 619.1,488.6 617.4,495.2 619.1,510.0" fill="none" stroke="#000" stroke-width="1.0" stroke-linejoin="round"/>
<polyline points="625.7,500.1 629.0,491.9 635.6,485.3 638.0,483.7" fill="none" stroke="#000" stroke-width="1.0" stroke-linejoin="round"/>
<polyline points="540.0,478.7 546.6,478.7 554.8,482.0 546.6,485.3 540.0,490.3" fill="none" stroke="#000" stroke-width="1.0" stroke-linejoin="round"/>
<polyline points="705.0,401.1 713.6,395.9 722.3,389.0 725.7,385.5 726.6,378.6 727.5,374.3 732.6,371.7 735.2,369.1" fill="none" stroke="#000" stroke-width="1.0" stroke-linejoin="round"/>
<polyline points="736.1,439.1 736.1,447.7 741.3,452.1 751.6,450.3 760.3,454.6 766.3,457.2 767.2,447.7 770.6,442.6 763.7,443.4 760.3,442.6 770.6,428.7 777.6,421.8 782.7,419.2 784.5,423.5 791.4,427.0 800.0,430.5 798.3,440.8 800.9,444.3 808.6,437.4 820.7,432.2 824.2,428.7 836.3,427.0 839.7,420.1 843.2,418.4 848.4,416.6 853.6,413.2 857.0,411.5 866.5,408.0 876.0,412.3 884.7,410.6 895.0,411.5" fill="none" stroke="#000" stroke-width="1.0" stroke-linejoin="round"/>
<polyline points="789.6,370.0 794.8,375.2 803.5,380.4 808.6,383.8 812.1,380.4 815.6,389.0 819.0,397.6 817.3,404.5 825.9,409.7 836.3,415.8 841.5,418.4" fill="none" stroke="#000" stroke-width="1.0" stroke-linejoin="round"/>
<polyline points="705.0,433.1 711.4,432.0 712.4,436.3 713.5,434.2 720.9,429.9 726.2,427.8 732.5,422.5 732.5,416.1" fill="none" stroke="#000" stroke-width="1.0" stroke-linejoin="round"/>
<polyline points="720.9,433.1 720.9,436.3 733.6,436.3 735.7,438.4 740.0,437.3 747.4,440.5 745.3,436.3 741.0,433.1" fill="none" stroke="#000" stroke-width="1.0" stroke-linejoin="round"/>
<polyline points="205.0,484.9 214.9,478.3 218.2,475.0" fill="none" stroke="#000" stroke-width="1.0" stroke-linejoin="round"/>
<polyline points="219.8,475.0 221.5,481.6 229.7,484.9 234.7,478.3 235.5,475.0" fill="none" stroke="#000" stroke-width="1.0" stroke-linejoin="round"/>
<polyline points="231.4,484.9 228.1,493.1 219.8,501.4 211.6,504.7 205.0,506.3" fill="none" stroke="#000" stroke-width="1.0" stroke-linejoin="round"/>
<polyline points="270.1,475.0 270.9,481.6 275.8,488.2 282.4,493.1 287.4,498.1 294.0,499.7 295.6,501.4 295.6,507.9 290.7,509.6 285.7,507.9 282.4,512.9 280.8,519.5 274.2,522.8 279.1,529.4 280.8,537.6 279.1,545.8 276.7,547.5 285.7,544.2 292.3,550.8 303.8,555.7 303.8,565.6 310.4,568.9 318.7,572.2 322.0,582.1 323.6,590.3 320.3,595.3 317.0,606.8 317.0,615.0" fill="none" stroke="#000" stroke-width="1.0" stroke-linejoin="round"/>
<polyline points="295.6,501.4 303.8,498.1 305.5,493.1 308.8,488.2 310.4,481.6 317.0,478.3 320.3,475.0" fill="none" stroke="#000" stroke-width="1.0" stroke-linejoin="round"/>
<polyline points="330.2,552.4 330.2,559.0 326.9,565.6 325.3,570.6 326.9,577.1 330.2,587.0 331.9,600.2 330.2,606.8 326.9,615.0" fill="none" stroke="#000" stroke-width="1.0" stroke-linejoin="round"/>
<polyline points="326.9,565.6 331.9,562.3 330.2,567.3 333.5,573.8 341.7,570.6 345.0,573.8 340.1,577.1 333.5,578.8 333.5,590.3 336.8,593.6 343.4,598.6 346.7,601.9 353.3,605.1 359.9,601.9 363.2,590.3 369.7,587.0 375.0,582.1" fill="none" stroke="#000" stroke-width="1.0" stroke-linejoin="round"/>
<polyline points="267.6,601.9 274.2,603.5 277.5,601.9 279.1,593.6 280.8,587.0 281.6,585.4" fill="none" stroke="#000" stroke-width="1.0" stroke-linejoin="round"/>
<polyline points="277.5,605.1 270.9,606.8 264.3,615.0" fill="none" stroke="#000" stroke-width="1.0" stroke-linejoin="round"/>
<polyline points="279.1,601.9 290.7,600.2 300.6,597.7 303.8,593.6 302.2,600.2 303.8,606.8 305.5,615.0" fill="none" stroke="#000" stroke-width="1.0" stroke-linejoin="round"/>
<polyline points="224.8,606.8 229.7,603.5 231.4,605.1 234.7,601.9 237.9,605.1 241.2,601.9 244.5,605.1 247.8,601.9 251.1,605.1 252.8,615.0" fill="none" stroke="#000" stroke-width="1.0" stroke-linejoin="round"/>
<polyline points="437.5,475.0 442.5,483.2 445.8,489.8 447.4,499.7 450.7,507.9 455.7,517.8 460.6,524.4 467.2,529.4" fill="none" stroke="#000" stroke-width="1.0" stroke-linejoin="round"/>
<polyline points="432.6,496.4 435.9,499.7 445.8,499.7" fill="none" stroke="#000" stroke-width="1.0" stroke-linejoin="round"/>
<polyline points="435.9,499.7 437.5,507.9 437.5,519.5 439.2,524.4 432.6,526.1 426.0,531.0 419.4,537.6 414.5,542.5 411.2,550.8 414.5,560.7 414.5,573.8 419.4,583.7 421.1,590.3" fill="none" stroke="#000" stroke-width="1.0" stroke-linejoin="round"/>
<polyline points="426.0,531.0 427.7,540.9 427.7,550.8 432.6,554.1 440.8,555.7 439.2,562.3 437.5,573.8" fill="none" stroke="#000" stroke-width="1.0" stroke-linejoin="round"/>
<polyline points="439.2,562.3 445.8,559.0 449.1,554.1 452.4,559.0 455.7,554.1 462.3,540.9 468.8,536.0 475.4,536.0 478.7,529.4 483.7,524.4 488.6,524.4 491.9,517.8 496.9,507.9 498.5,504.7 491.9,503.0 487.0,499.7 485.3,496.4 490.3,493.1 495.2,491.5 505.1,488.2 513.3,484.9" fill="none" stroke="#000" stroke-width="1.0" stroke-linejoin="round"/>
<polyline points="491.9,475.0 491.9,484.9 488.6,491.5 487.0,496.4" fill="none" stroke="#000" stroke-width="1.0" stroke-linejoin="round"/>
<polyline points="510.0,475.0 513.3,484.9 515.0,494.8 518.3,506.3" fill="none" stroke="#000" stroke-width="1.0" stroke-linejoin="round"/>
<polyline points="540.0,488.2 533.1,496.4 531.4,507.9 528.2,521.1 526.5,527.7 531.4,537.6 540.0,540.9" fill="none" stroke="#000" stroke-width="1.0" stroke-linejoin="round"/>
<polyline points="477.1,544.2 485.3,540.9 488.6,552.4 477.1,552.4 477.1,544.2" fill="none" stroke="#000" stroke-width="1.0" stroke-linejoin="round"/>
<polyline points="455.7,564.0 462.3,554.1 467.2,554.1 467.2,564.0 462.3,567.3 455.7,564.0" fill="none" stroke="#000" stroke-width="1.0" stroke-linejoin="round"/>
<polyline points="370.0,590.3 376.6,580.4 386.5,573.8 393.1,573.8 394.7,587.0 399.7,590.3 407.9,585.4 412.8,577.1 419.4,580.4 421.1,590.3" fill="none" stroke="#000" stroke-width="1.0" stroke-linejoin="round"/>
<polyline points="373.3,615.0 379.9,606.8 386.5,603.5 394.7,605.1 393.1,608.4 383.2,615.0" fill="none" stroke="#000" stroke-width="1.0" stroke-linejoin="round"/>
<polyline points="442.5,580.4 449.1,575.5 452.4,580.4 449.1,585.4 442.5,580.4" fill="none" stroke="#000" stroke-width="1.0" stroke-linejoin="round"/>
<polyline points="540.0,481.6 554.8,481.6 549.9,483.2 543.3,489.8 540.0,489.8" fill="none" stroke="#000" stroke-width="1.0" stroke-linejoin="round"/>
<polyline points="601.8,475.0 605.9,478.3 612.5,484.9 617.4,496.4 619.1,504.7 619.1,507.9 618.3,540.9 538.4,540.9" fill="none" stroke="#000" stroke-width="1.0" stroke-linejoin="round"/>
<polyline points="615.8,475.0 617.4,483.2 620.7,491.5 625.7,488.2 633.9,484.9 638.8,481.6 637.2,476.6 632.3,475.0" fill="none" stroke="#000" stroke-width="1.0" stroke-linejoin="round"/>
<polyline points="625.7,499.7 626.5,493.1 632.3,488.2 637.2,486.5" fill="none" stroke="#000" stroke-width="1.0" stroke-linejoin="round"/>
<polyline points="205.0,647.8 209.9,645.3 216.5,646.1 219.8,642.5 226.4,646.1 229.7,634.6 244.5,629.7 238.8,624.7 243.7,623.1 244.5,616.5 237.1,609.9 231.4,603.3 224.8,606.6 229.7,602.5 235.5,601.6 240.4,602.5 245.4,601.6 246.2,608.2 253.6,604.1 252.8,609.9 248.7,614.8 257.7,618.1 261.8,621.4 262.7,616.5 267.6,609.9 277.5,604.9 275.8,601.6 267.6,601.6" fill="none" stroke="#000" stroke-width="1.0" stroke-linejoin="round"/>
<polyline points="251.1,618.1 252.8,624.7 256.1,631.3 249.5,637.9 259.4,636.2 264.3,631.3 270.9,632.1 275.8,628.0 275.8,624.7 270.9,623.1 266.0,626.4 262.7,624.7 261.0,621.4" fill="none" stroke="#000" stroke-width="1.0" stroke-linejoin="round"/>
<polyline points="277.5,600.0 294.0,600.0" fill="none" stroke="#000" stroke-width="1.0" stroke-linejoin="round"/>
<polyline points="302.2,600.0 300.6,608.2 308.8,614.8 315.4,614.8 313.7,609.9 320.3,603.3 320.3,600.0" fill="none" stroke="#000" stroke-width="1.0" stroke-linejoin="round"/>
<polyline points="313.7,614.8 313.7,619.8" fill="none" stroke="#000" stroke-width="1.0" stroke-linejoin="round"/>
<polyline points="313.7,631.3 312.9,641.2" fill="none" stroke="#000" stroke-width="1.0" stroke-linejoin="round"/>
<polyline points="312.9,646.1 312.1,655.2" fill="none" stroke="#000" stroke-width="1.0" stroke-linejoin="round"/>
<polyline points="311.3,661.8 310.4,670.8" fill="none" stroke="#000" stroke-width="1.0" stroke-linejoin="round"/>
<polyline points="315.4,614.8 323.6,609.9 330.2,606.6 331.9,600.0" fill="none" stroke="#000" stroke-width="1.0" stroke-linejoin="round"/>
<polyline points="345.0,600.0 350.0,604.9 356.6,606.6 363.2,603.3 364.8,600.0" fill="none" stroke="#000" stroke-width="1.0" stroke-linejoin="round"/>
<polyline points="335.1,621.4 336.8,618.1 337.6,623.9 335.1,621.4" fill="none" stroke="#000" stroke-width="1.0" stroke-linejoin="round"/>
<polyline points="346.7,634.6 350.0,629.7 348.3,624.7 353.3,621.4 359.9,616.5 366.4,613.2 369.7,616.5 363.2,621.4 364.8,626.4 358.2,632.9 353.3,634.6 346.7,634.6" fill="none" stroke="#000" stroke-width="1.0" stroke-linejoin="round"/>
<polyline points="369.7,616.5 375.0,613.2" fill="none" stroke="#000" stroke-width="1.0" stroke-linejoin="round"/>
<polyline points="371.6,616.5 376.6,613.2 378.2,609.9 381.5,606.6 382.4,603.3 386.5,604.9 391.4,602.5 395.5,603.3 395.5,607.4 388.1,609.9 384.8,616.5 386.5,624.7 384.8,628.0 383.2,632.9 384.8,635.4 380.7,637.9 378.2,634.6 374.9,630.5 378.2,628.0 376.6,621.4 372.5,618.1 371.6,616.5" fill="none" stroke="#000" stroke-width="1.0" stroke-linejoin="round"/>
<polyline points="507.4,544.2 510.6,544.2 509.0,541.0 507.4,544.2" fill="none" stroke="#000" stroke-width="1.0" stroke-linejoin="round"/>
<polyline points="508.2,551.6 511.4,551.6 509.8,548.4 508.2,551.6" fill="none" stroke="#000" stroke-width="1.0" stroke-linejoin="round"/>
<polyline points="507.2,564.2 510.8,564.2 509.0,560.6 507.2,564.2" fill="none" stroke="#000" stroke-width="1.0" stroke-linejoin="round"/>
<polyline points="513.6,571.0 517.6,571.0 515.6,567.0 513.6,571.0" fill="none" stroke="#000" stroke-width="1.0" stroke-linejoin="round"/>
<polyline points="505.5,575.7 509.1,575.7 507.3,572.1 505.5,575.7" fill="none" stroke="#000" stroke-width="1.0" stroke-linejoin="round"/>
<polyline points="523.8,545.0 527.0,545.0 525.4,541.8 523.8,545.0" fill="none" stroke="#000" stroke-width="1.0" stroke-linejoin="round"/>
<polyline points="523.8,567.3 527.0,567.3 525.4,564.1 523.8,567.3" fill="none" stroke="#000" stroke-width="1.0" stroke-linejoin="round"/>
<polyline points="537.0,560.7 540.2,560.7 538.6,557.5 537.0,560.7" fill="none" stroke="#000" stroke-width="1.0" stroke-linejoin="round"/>
<polyline points="553.6,550.7 556.6,550.7 555.1,547.7 553.6,550.7" fill="none" stroke="#000" stroke-width="1.0" stroke-linejoin="round"/>
<polyline points="571.4,567.5 575.0,567.5 573.2,563.9 571.4,567.5" fill="none" stroke="#000" stroke-width="1.0" stroke-linejoin="round"/>
<polyline points="576.4,567.5 580.0,567.5 578.2,563.9 576.4,567.5" fill="none" stroke="#000" stroke-width="1.0" stroke-linejoin="round"/>
<polyline points="555.1,584.6 558.3,584.6 556.7,581.4 555.1,584.6" fill="none" stroke="#000" stroke-width="1.0" stroke-linejoin="round"/>
<polyline points="565.2,557.2 568.0,557.2 566.6,554.4 565.2,557.2" fill="none" stroke="#000" stroke-width="1.0" stroke-linejoin="round"/>
<polyline points="510.5,577.5 513.5,577.5 512.0,574.5 510.5,577.5" fill="none" stroke="#000" stroke-width="1.0" stroke-linejoin="round"/>
<path d="M260.0,95.0L241.3,50.8M239.7,56.1L241.3,50.8L246.2,53.3M319.8,95.0L299.6,51.4M298.2,56.7L299.6,51.4L304.6,53.8M379.5,95.0L356.7,52.7M355.6,58.1L356.7,52.7L361.9,54.8M439.2,95.0L428.5,48.2M426.0,53.1L428.5,48.2L432.8,51.5M499.0,95.0L494.0,70.0M491.4,74.8L494.0,70.0L498.3,73.4M558.8,95.0L547.8,48.3M545.3,53.2L547.8,48.3L552.2,51.6M618.5,95.0L611.0,71.0M608.9,76.1L611.0,71.0L615.6,74.0M678.2,95.0L650.6,55.7M650.2,61.2L650.6,55.7L656.0,57.1M738.0,95.0L720.3,74.9M720.4,80.4L720.3,74.9L725.7,75.7M797.8,95.0L779.6,77.9M780.2,83.4L779.6,77.9L785.1,78.2M857.5,95.0L845.9,82.1M846.1,87.6L845.9,82.1L851.3,82.9M260.0,166.7L235.0,124.0M234.1,129.4L235.0,124.0L240.2,125.8M319.8,166.7L301.0,125.0M299.5,130.3L301.0,125.0L306.0,127.4M379.5,166.7L354.0,144.6M354.9,150.0L354.0,144.6L359.5,144.7M439.2,166.7L423.0,140.6M422.2,146.0L423.0,140.6L428.2,142.3M499.0,166.7L479.0,134.0M478.2,139.4L479.0,134.0L484.2,135.7M558.8,166.7L540.6,144.0M540.5,149.5L540.6,144.0L546.0,145.1M618.5,166.7L598.6,137.0M598.0,142.5L598.6,137.0L603.9,138.5M678.2,166.7L668.0,155.4M668.2,160.9L668.0,155.4L673.4,156.1M738.0,166.7L717.1,150.5M718.3,155.9L717.1,150.5L722.6,150.3M797.8,166.7L777.5,153.7M779.1,159.0L777.5,153.7L783.0,153.0M857.5,166.7L837.4,155.4M839.3,160.5L837.4,155.4L842.8,154.4M260.0,238.4L235.1,222.4M236.7,227.7L235.1,222.4L240.6,221.7M319.8,238.4L297.0,210.8M297.0,216.3L297.0,210.8L302.4,211.8M379.5,238.4L363.4,214.7M362.8,220.2L363.4,214.7L368.7,216.2M439.2,238.4L414.0,207.4M413.9,212.9L414.0,207.4L419.4,208.4M499.0,238.4L477.0,208.5M476.6,214.0L477.0,208.5L482.3,209.8M558.8,238.4L529.8,209.8M530.3,215.3L529.8,209.8L535.3,210.2M618.5,238.4L604.6,226.0M605.4,231.4L604.6,226.0L610.1,226.2M678.2,238.4L659.0,219.0M659.5,224.5L659.0,219.0L664.5,219.5M738.0,238.4L719.2,223.6M720.3,229.0L719.2,223.6L724.7,223.4M797.8,238.4L773.2,223.6M775.0,228.8L773.2,223.6L778.6,222.7M857.5,238.4L837.4,224.7M838.9,230.0L837.4,224.7L842.9,224.2M260.0,310.1L230.5,275.7M230.6,281.2L230.5,275.7L235.9,276.6M319.8,310.1L293.1,281.1M293.3,286.6L293.1,281.1L298.6,281.8M379.5,310.1L358.0,284.2M358.0,289.7L358.0,284.2L363.4,285.2M260.0,381.8L229.7,358.1M230.8,363.5L229.7,358.1L235.2,357.9M319.8,381.8L292.3,356.5M293.0,362.0L292.3,356.5L297.8,356.8M379.5,381.8L354.9,359.8M355.7,365.2L354.9,359.8L360.4,360.0M260.0,453.5L233.0,419.1M232.8,424.6L233.0,419.1L238.4,420.2M319.8,453.5L292.3,424.8M292.7,430.3L292.3,424.8L297.8,425.4M379.5,453.5L350.0,424.8M350.6,430.3L350.0,424.8L355.5,425.2M439.2,310.1L414.5,283.6M414.8,289.1L414.5,283.6L420.0,284.3M499.0,310.1L462.3,282.8M463.6,288.2L462.3,282.8L467.8,282.5M558.8,310.1L541.6,296.0M542.6,301.4L541.6,296.0L547.1,295.9M618.5,310.1L598.5,293.5M599.5,298.9L598.5,293.5L604.0,293.5M678.2,310.1L655.3,290.2M656.2,295.6L655.3,290.2L660.8,290.3M738.0,310.1L717.1,300.6M719.5,305.6L717.1,300.6L722.4,299.1M797.8,310.1L754.2,301.5M757.6,305.8L754.2,301.5L759.0,298.8M857.5,310.1L834.6,312.7M839.2,315.7L834.6,312.7L838.4,308.7M439.2,381.8L419.4,360.2M419.6,365.7L419.4,360.2L424.9,360.9M499.0,381.8L476.3,364.3M477.5,369.7L476.3,364.3L481.8,364.1M558.8,381.8L527.3,366.8M529.6,371.8L527.3,366.8L532.6,365.4M618.5,381.8L587.0,361.0M588.6,366.3L587.0,361.0L592.5,360.4M678.2,381.8L649.6,364.3M651.4,369.5L649.6,364.3L655.0,363.5M738.0,381.8L713.6,377.8M717.2,382.0L713.6,377.8L718.3,375.0M797.8,381.8L768.9,391.6M774.0,393.6L768.9,391.6L771.8,386.9M857.5,381.8L827.6,392.5M832.8,394.4L827.6,392.5L830.4,387.8M499.0,453.5L473.8,431.0M474.6,436.4L473.8,431.0L479.3,431.2M558.8,453.5L533.1,439.2M535.1,444.3L533.1,439.2L538.5,438.2M618.5,453.5L584.5,438.4M586.9,443.3L584.5,438.4L589.8,436.9M678.2,453.5L638.0,455.7M642.4,459.0L638.0,455.7L642.0,451.9M738.0,453.5L697.3,460.6M702.1,463.4L697.3,460.6L700.8,456.4M797.8,453.5L749.9,467.6M754.9,469.8L749.9,467.6L752.9,463.0M857.5,453.5L811.2,471.9M816.4,473.6L811.2,471.9L813.8,467.1M260.0,525.2L237.1,489.0M236.4,494.5L237.1,489.0L242.3,490.7M319.8,525.2L300.6,497.2M300.1,502.7L300.6,497.2L305.9,498.7M379.5,525.2L353.3,498.9M353.8,504.4L353.3,498.9L358.8,499.4M439.2,525.2L409.5,503.0M410.8,508.4L409.5,503.0L415.0,502.7M499.0,525.2L468.8,503.8M470.2,509.1L468.8,503.8L474.3,503.4M558.8,525.2L523.2,507.1M525.4,512.2L523.2,507.1L528.6,505.9M618.5,525.2L587.0,506.3M588.8,511.5L587.0,506.3L592.4,505.4M678.2,525.2L647.9,508.8M649.9,513.9L647.9,508.8L653.3,507.7M738.0,525.2L710.2,509.5M712.1,514.7L710.2,509.5L715.6,508.5M797.8,525.2L771.5,511.3M773.6,516.4L771.5,511.3L776.9,510.1M857.5,525.2L829.4,515.6M832.2,520.3L829.4,515.6L834.5,513.6M260.0,596.9L235.5,571.4M235.9,576.9L235.5,571.4L241.0,572.0M319.8,596.9L295.6,573.8M296.2,579.3L295.6,573.8L301.1,574.2M379.5,596.9L352.4,576.3M353.6,581.7L352.4,576.3L357.9,576.0M439.2,596.9L412.0,576.3M413.2,581.7L412.0,576.3L417.5,576.0M499.0,596.9L461.4,575.5M463.3,580.7L461.4,575.5L466.8,574.5M558.8,596.9L525.7,578.0M527.6,583.2L525.7,578.0L531.1,577.0M618.5,596.9L582.8,579.6M585.0,584.6L582.8,579.6L588.1,578.3M678.2,596.9L639.7,583.7M642.5,588.4L639.7,583.7L644.8,581.7M738.0,596.9L705.6,580.4M707.8,585.5L705.6,580.4L711.0,579.2M797.8,596.9L765.5,578.6M767.4,583.8L765.5,578.6L770.9,577.6M857.5,596.9L829.4,579.5M831.1,584.7L829.4,579.5L834.8,578.7M260.0,668.6L237.9,647.0M238.4,652.5L237.9,647.0L243.4,647.4M319.8,668.6L298.9,643.7M298.9,649.2L298.9,643.7L304.3,644.7M379.5,668.6L359.0,643.7M358.9,649.2L359.0,643.7L364.4,644.7M439.2,668.6L412.0,642.8M412.6,648.3L412.0,642.8L417.5,643.1M499.0,668.6L468.0,644.5M469.2,649.9L468.0,644.5L473.5,644.3M558.8,668.6L524.9,644.5M526.3,649.8L524.9,644.5L530.4,644.1M618.5,668.6L585.3,647.0M586.9,652.3L585.3,647.0L590.8,646.3M678.2,668.6L644.6,648.6M646.4,653.8L644.6,648.6L650.0,647.7M738.0,668.6L701.4,653.5M703.9,658.4L701.4,653.5L706.6,651.8M797.8,668.6L763.7,657.0M766.5,661.7L763.7,657.0L768.8,655.0M857.5,668.6L825.1,658.7M828.1,663.3L825.1,658.7L830.2,656.6M260.0,740.3L236.3,705.4M235.7,710.9L236.3,705.4L241.6,706.9M319.8,740.3L296.4,703.8M295.7,709.3L296.4,703.8L301.6,705.4M379.5,740.3L357.4,707.1M356.8,712.6L357.4,707.1L362.7,708.6M439.2,740.3L415.3,708.7M415.0,714.2L415.3,708.7L420.7,709.9M499.0,740.3L471.3,712.0M471.7,717.5L471.3,712.0L476.8,712.5M558.8,740.3L527.3,712.8M528.1,718.2L527.3,712.8L532.8,712.9M618.5,740.3L588.6,715.3M589.6,720.7L588.6,715.3L594.1,715.3M678.2,740.3L648.7,717.0M649.8,722.4L648.7,717.0L654.2,716.8M738.0,740.3L704.7,721.9M706.7,727.0L704.7,721.9L710.1,720.8M797.8,740.3L763.7,724.4M766.0,729.4L763.7,724.4L769.0,723.0M857.5,740.3L825.9,730.4M828.9,735.0L825.9,730.4L831.0,728.3M260.0,453.5L233.0,419.1M232.8,424.6L233.0,419.1L238.4,420.2M439.2,453.5L410.5,433.0M411.9,438.3L410.5,433.0L416.0,432.6" fill="none" stroke="#000" stroke-width="1" stroke-linecap="butt"/>
</g>
<g clip-path="url(#mapc)">
<circle cx="497" cy="96" r="5.1" fill="none" stroke="#8a1ee6" stroke-width="2"/>
<circle cx="839.3" cy="143.5" r="5.1" fill="none" stroke="#8a1ee6" stroke-width="2"/>
<circle cx="334" cy="392" r="5.1" fill="none" stroke="#8a1ee6" stroke-width="2"/>
<circle cx="276" cy="411.3" r="5.1" fill="none" stroke="#8a1ee6" stroke-width="2"/>
<circle cx="413.2" cy="284.4" r="5.1" fill="none" stroke="#8a1ee6" stroke-width="2"/>
<circle cx="443.3" cy="371.7" r="5.1" fill="none" stroke="#8a1ee6" stroke-width="2"/>
<circle cx="643.5" cy="279.5" r="5.1" fill="none" stroke="#8a1ee6" stroke-width="2"/>
<circle cx="874.3" cy="309.3" r="5.1" fill="none" stroke="#8a1ee6" stroke-width="2"/>
<circle cx="426.8" cy="391.4" r="5.1" fill="none" stroke="#8a1ee6" stroke-width="2"/>
<circle cx="515" cy="393.9" r="5.1" fill="none" stroke="#8a1ee6" stroke-width="2"/>
<circle cx="420.2" cy="464.7" r="5.1" fill="none" stroke="#8a1ee6" stroke-width="2"/>
<circle cx="463.9" cy="479.6" r="5.1" fill="none" stroke="#8a1ee6" stroke-width="2"/>
<circle cx="605.1" cy="385.7" r="5.1" fill="none" stroke="#8a1ee6" stroke-width="2"/>
<circle cx="559" cy="463.1" r="5.1" fill="none" stroke="#8a1ee6" stroke-width="2"/>
<circle cx="739.5" cy="435.6" r="5.1" fill="none" stroke="#8a1ee6" stroke-width="2"/>
<circle cx="266.8" cy="590.3" r="5.1" fill="none" stroke="#8a1ee6" stroke-width="2"/>
<circle cx="463.9" cy="480" r="5.1" fill="none" stroke="#8a1ee6" stroke-width="2"/>
<circle cx="482.9" cy="516.2" r="5.1" fill="none" stroke="#8a1ee6" stroke-width="2"/>
</g>
<rect x="205" y="69" width="690" height="663" fill="none" stroke="#000" stroke-width="2" shape-rendering="crispEdges"/>
<line x1="198" y1="732.3" x2="205" y2="732.3" stroke="#ff2020" stroke-width="1.2"/>
<text x="152.3" y="741.0" font-size="25" fill="#ff2020" font-family='"Liberation Serif", "Noto Serif CJK SC", serif' textLength="40.2" lengthAdjust="spacingAndGlyphs">21N</text>
<line x1="198" y1="649.5" x2="205" y2="649.5" stroke="#ff2020" stroke-width="1.2"/>
<text x="132.2" y="658.2" font-size="25" fill="#ff2020" font-family='"Liberation Serif", "Noto Serif CJK SC", serif' textLength="60.3" lengthAdjust="spacingAndGlyphs">21.5N</text>
<line x1="198" y1="566.6" x2="205" y2="566.6" stroke="#ff2020" stroke-width="1.2"/>
<text x="152.3" y="575.3" font-size="25" fill="#ff2020" font-family='"Liberation Serif", "Noto Serif CJK SC", serif' textLength="40.2" lengthAdjust="spacingAndGlyphs">22N</text>
<line x1="198" y1="483.8" x2="205" y2="483.8" stroke="#ff2020" stroke-width="1.2"/>
<text x="132.2" y="492.5" font-size="25" fill="#ff2020" font-family='"Liberation Serif", "Noto Serif CJK SC", serif' textLength="60.3" lengthAdjust="spacingAndGlyphs">22.5N</text>
<line x1="198" y1="401.0" x2="205" y2="401.0" stroke="#ff2020" stroke-width="1.2"/>
<text x="152.3" y="409.7" font-size="25" fill="#ff2020" font-family='"Liberation Serif", "Noto Serif CJK SC", serif' textLength="40.2" lengthAdjust="spacingAndGlyphs">23N</text>
<line x1="198" y1="318.1" x2="205" y2="318.1" stroke="#ff2020" stroke-width="1.2"/>
<text x="132.2" y="326.8" font-size="25" fill="#ff2020" font-family='"Liberation Serif", "Noto Serif CJK SC", serif' textLength="60.3" lengthAdjust="spacingAndGlyphs">23.5N</text>
<line x1="198" y1="235.3" x2="205" y2="235.3" stroke="#ff2020" stroke-width="1.2"/>
<text x="152.3" y="244.0" font-size="25" fill="#ff2020" font-family='"Liberation Serif", "Noto Serif CJK SC", serif' textLength="40.2" lengthAdjust="spacingAndGlyphs">24N</text>
<line x1="198" y1="152.5" x2="205" y2="152.5" stroke="#ff2020" stroke-width="1.2"/>
<text x="132.2" y="161.2" font-size="25" fill="#ff2020" font-family='"Liberation Serif", "Noto Serif CJK SC", serif' textLength="60.3" lengthAdjust="spacingAndGlyphs">24.5N</text>
<line x1="205.5" y1="733" x2="205.5" y2="739" stroke="#ff2020" stroke-width="1.2"/>
<text x="171.1" y="760.4" font-size="25.5" fill="#ff2020" font-family='"Liberation Serif", "Noto Serif CJK SC", serif' textLength="69.5" lengthAdjust="spacingAndGlyphs">111.5E</text>
<line x1="274.5" y1="733" x2="274.5" y2="739" stroke="#ff2020" stroke-width="1.2"/>
<text x="249.7" y="760.4" font-size="25.5" fill="#ff2020" font-family='"Liberation Serif", "Noto Serif CJK SC", serif' textLength="50.2" lengthAdjust="spacingAndGlyphs">112E</text>
<line x1="343.6" y1="733" x2="343.6" y2="739" stroke="#ff2020" stroke-width="1.2"/>
<text x="309.1" y="760.4" font-size="25.5" fill="#ff2020" font-family='"Liberation Serif", "Noto Serif CJK SC", serif' textLength="69.5" lengthAdjust="spacingAndGlyphs">112.5E</text>
<line x1="412.6" y1="733" x2="412.6" y2="739" stroke="#ff2020" stroke-width="1.2"/>
<text x="387.8" y="760.4" font-size="25.5" fill="#ff2020" font-family='"Liberation Serif", "Noto Serif CJK SC", serif' textLength="50.2" lengthAdjust="spacingAndGlyphs">113E</text>
<line x1="481.6" y1="733" x2="481.6" y2="739" stroke="#ff2020" stroke-width="1.2"/>
<text x="447.2" y="760.4" font-size="25.5" fill="#ff2020" font-family='"Liberation Serif", "Noto Serif CJK SC", serif' textLength="69.5" lengthAdjust="spacingAndGlyphs">113.5E</text>
<line x1="550.6" y1="733" x2="550.6" y2="739" stroke="#ff2020" stroke-width="1.2"/>
<text x="525.8" y="760.4" font-size="25.5" fill="#ff2020" font-family='"Liberation Serif", "Noto Serif CJK SC", serif' textLength="50.2" lengthAdjust="spacingAndGlyphs">114E</text>
<line x1="619.7" y1="733" x2="619.7" y2="739" stroke="#ff2020" stroke-width="1.2"/>
<text x="585.2" y="760.4" font-size="25.5" fill="#ff2020" font-family='"Liberation Serif", "Noto Serif CJK SC", serif' textLength="69.5" lengthAdjust="spacingAndGlyphs">114.5E</text>
<line x1="688.7" y1="733" x2="688.7" y2="739" stroke="#ff2020" stroke-width="1.2"/>
<text x="663.9" y="760.4" font-size="25.5" fill="#ff2020" font-family='"Liberation Serif", "Noto Serif CJK SC", serif' textLength="50.2" lengthAdjust="spacingAndGlyphs">115E</text>
<line x1="757.7" y1="733" x2="757.7" y2="739" stroke="#ff2020" stroke-width="1.2"/>
<text x="723.3" y="760.4" font-size="25.5" fill="#ff2020" font-family='"Liberation Serif", "Noto Serif CJK SC", serif' textLength="69.5" lengthAdjust="spacingAndGlyphs">115.5E</text>
<line x1="826.8" y1="733" x2="826.8" y2="739" stroke="#ff2020" stroke-width="1.2"/>
<text x="802.0" y="760.4" font-size="25.5" fill="#ff2020" font-family='"Liberation Serif", "Noto Serif CJK SC", serif' textLength="50.2" lengthAdjust="spacingAndGlyphs">116E</text>
<rect x="957.5" y="127.20" width="40.0" height="22.93" fill="#8a2be2" stroke="#000" stroke-width="1" shape-rendering="crispEdges"/>
<rect x="957.5" y="150.13" width="40.0" height="22.93" fill="#9a32cd" stroke="#000" stroke-width="1" shape-rendering="crispEdges"/>
<rect x="957.5" y="173.05" width="40.0" height="22.93" fill="#b03060" stroke="#000" stroke-width="1" shape-rendering="crispEdges"/>
<rect x="957.5" y="195.98" width="40.0" height="22.93" fill="#c71585" stroke="#000" stroke-width="1" shape-rendering="crispEdges"/>
<rect x="957.5" y="218.91" width="40.0" height="22.93" fill="#ff0000" stroke="#000" stroke-width="1" shape-rendering="crispEdges"/>
<rect x="957.5" y="241.83" width="40.0" height="22.93" fill="#f80048" stroke="#000" stroke-width="1" shape-rendering="crispEdges"/>
<rect x="957.5" y="264.76" width="40.0" height="22.93" fill="#f7285a" stroke="#000" stroke-width="1" shape-rendering="crispEdges"/>
<rect x="957.5" y="287.69" width="40.0" height="22.93" fill="#f86464" stroke="#000" stroke-width="1" shape-rendering="crispEdges"/>
<rect x="957.5" y="310.62" width="40.0" height="22.93" fill="#e85a2c" stroke="#000" stroke-width="1" shape-rendering="crispEdges"/>
<rect x="957.5" y="333.54" width="40.0" height="22.93" fill="#ff8a00" stroke="#000" stroke-width="1" shape-rendering="crispEdges"/>
<rect x="957.5" y="356.47" width="40.0" height="22.93" fill="#fbb02a" stroke="#000" stroke-width="1" shape-rendering="crispEdges"/>
<rect x="957.5" y="379.40" width="40.0" height="22.93" fill="#f4b44c" stroke="#000" stroke-width="1" shape-rendering="crispEdges"/>
<rect x="957.5" y="402.32" width="40.0" height="22.93" fill="#ffe600" stroke="#000" stroke-width="1" shape-rendering="crispEdges"/>
<rect x="957.5" y="425.25" width="40.0" height="22.93" fill="#fff000" stroke="#000" stroke-width="1" shape-rendering="crispEdges"/>
<rect x="957.5" y="448.18" width="40.0" height="22.93" fill="#f4e060" stroke="#000" stroke-width="1" shape-rendering="crispEdges"/>
<rect x="957.5" y="471.10" width="40.0" height="22.93" fill="#f6f46a" stroke="#000" stroke-width="1" shape-rendering="crispEdges"/>
<rect x="957.5" y="494.03" width="40.0" height="22.93" fill="#6aaa3a" stroke="#000" stroke-width="1" shape-rendering="crispEdges"/>
<rect x="957.5" y="516.96" width="40.0" height="22.93" fill="#8ccc50" stroke="#000" stroke-width="1" shape-rendering="crispEdges"/>
<rect x="957.5" y="539.88" width="40.0" height="22.93" fill="#c0e080" stroke="#000" stroke-width="1" shape-rendering="crispEdges"/>
<rect x="957.5" y="562.81" width="40.0" height="22.93" fill="#c4d880" stroke="#000" stroke-width="1" shape-rendering="crispEdges"/>
<rect x="957.5" y="585.74" width="40.0" height="22.93" fill="#dde8bb" stroke="#000" stroke-width="1" shape-rendering="crispEdges"/>
<rect x="957.5" y="608.67" width="40.0" height="22.93" fill="#4a8cc4" stroke="#000" stroke-width="1" shape-rendering="crispEdges"/>
<rect x="957.5" y="631.59" width="40.0" height="22.93" fill="#6aaedd" stroke="#000" stroke-width="1" shape-rendering="crispEdges"/>
<rect x="957.5" y="654.52" width="40.0" height="22.93" fill="#a2daf4" stroke="#000" stroke-width="1" shape-rendering="crispEdges"/>
<rect x="957.5" y="677.45" width="40.0" height="22.93" fill="#d8eefa" stroke="#000" stroke-width="1" shape-rendering="crispEdges"/>
<rect x="957.5" y="700.37" width="40.0" height="22.93" fill="#ffffff" stroke="#000" stroke-width="1" shape-rendering="crispEdges"/>
<text x="1004.2" y="160.12692307692308" font-size="26" fill="#000" font-family='"Liberation Serif", "Noto Serif CJK SC", serif' textLength="38.7" lengthAdjust="spacingAndGlyphs">403</text>
<text x="1004.2" y="205.98076923076923" font-size="26" fill="#000" font-family='"Liberation Serif", "Noto Serif CJK SC", serif' textLength="38.7" lengthAdjust="spacingAndGlyphs">368</text>
<text x="1004.2" y="251.83461538461538" font-size="26" fill="#000" font-family='"Liberation Serif", "Noto Serif CJK SC", serif' textLength="38.7" lengthAdjust="spacingAndGlyphs">325</text>
<text x="1004.2" y="297.6884615384615" font-size="26" fill="#000" font-family='"Liberation Serif", "Noto Serif CJK SC", serif' textLength="38.7" lengthAdjust="spacingAndGlyphs">275</text>
<text x="1004.2" y="343.54230769230765" font-size="26" fill="#000" font-family='"Liberation Serif", "Noto Serif CJK SC", serif' textLength="38.7" lengthAdjust="spacingAndGlyphs">225</text>
<text x="1004.2" y="389.3961538461538" font-size="26" fill="#000" font-family='"Liberation Serif", "Noto Serif CJK SC", serif' textLength="38.7" lengthAdjust="spacingAndGlyphs">175</text>
<text x="1004.2" y="435.24999999999994" font-size="26" fill="#000" font-family='"Liberation Serif", "Noto Serif CJK SC", serif' textLength="38.7" lengthAdjust="spacingAndGlyphs">100</text>
<text x="1004.2" y="481.1038461538461" font-size="26" fill="#000" font-family='"Liberation Serif", "Noto Serif CJK SC", serif' textLength="25.8" lengthAdjust="spacingAndGlyphs">70</text>
<text x="1004.2" y="526.9576923076922" font-size="26" fill="#000" font-family='"Liberation Serif", "Noto Serif CJK SC", serif' textLength="25.8" lengthAdjust="spacingAndGlyphs">45</text>
<text x="1004.2" y="572.8115384615385" font-size="26" fill="#000" font-family='"Liberation Serif", "Noto Serif CJK SC", serif' textLength="25.8" lengthAdjust="spacingAndGlyphs">35</text>
<text x="1004.2" y="618.6653846153846" font-size="26" fill="#000" font-family='"Liberation Serif", "Noto Serif CJK SC", serif' textLength="25.8" lengthAdjust="spacingAndGlyphs">25</text>
<text x="1004.2" y="664.5192307692307" font-size="26" fill="#000" font-family='"Liberation Serif", "Noto Serif CJK SC", serif' textLength="25.8" lengthAdjust="spacingAndGlyphs">15</text>
<text x="1004.2" y="710.373076923077" font-size="26" fill="#000" font-family='"Liberation Serif", "Noto Serif CJK SC", serif' textLength="12.9" lengthAdjust="spacingAndGlyphs">5</text>
<text x="941.5" y="107.9" font-size="22.5" fill="#000" font-family='"Liberation Serif", "Noto Serif CJK SC", serif' textLength="90" lengthAdjust="spacingAndGlyphs">(ug/m3)</text>
<path d="M955,750.5 L1005.5,750.5 M992,743.5 L1005.5,750.5 L992,758" fill="none" stroke="#000" stroke-width="1.3"/>
<text x="942.8" y="778" font-size="20.5" fill="#000" font-family='"Liberation Serif", "Noto Serif CJK SC", serif' textLength="22.5" lengthAdjust="spacingAndGlyphs">10</text>
<text x="978.3" y="778" font-size="20.5" fill="#000" font-family='"Liberation Serif", "Noto Serif CJK SC", serif' textLength="20.5" lengthAdjust="spacingAndGlyphs">m</text>
<text x="999.3" y="780.5" font-size="27" fill="#000" font-family='"Liberation Serif", "Noto Serif CJK SC", serif' textLength="13.5" lengthAdjust="spacingAndGlyphs">/</text>
<text x="1014.3" y="778" font-size="20.5" fill="#000" font-family='"Liberation Serif", "Noto Serif CJK SC", serif' textLength="10" lengthAdjust="spacingAndGlyphs">s</text>
<text x="360.2" y="829.2" font-size="21" fill="#000" font-family='"Liberation Sans", "WenQuanYi Zen Hei", sans-serif' textLength="81" lengthAdjust="spacingAndGlyphs">版权所有</text>
<text x="440.5" y="829.2" font-size="21" fill="#000" font-family='"Liberation Sans", "WenQuanYi Zen Hei", sans-serif'>:</text>
<text x="454.3" y="829.2" font-size="21" fill="#000" font-family='"Liberation Sans", "WenQuanYi Zen Hei", sans-serif' textLength="75" lengthAdjust="spacingAndGlyphs">南京大学</text>
<line x1="534.5" y1="808" x2="534.5" y2="837" stroke="#000" stroke-width="1.2"/>
<text x="546" y="829.2" font-size="21" fill="#000" font-family='"Liberation Sans", "WenQuanYi Zen Hei", sans-serif' textLength="198" lengthAdjust="spacingAndGlyphs">南京创蓝科技有限公司</text>
</svg>
</body></html>
